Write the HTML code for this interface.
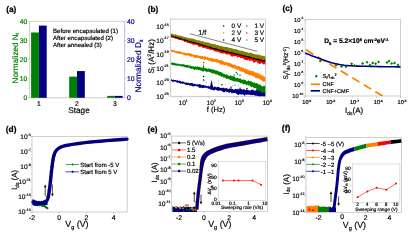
<!DOCTYPE html>
<html><head><meta charset="utf-8"><style>html,body{margin:0;padding:0;background:#fff;width:409px;height:232px;overflow:hidden}svg{display:block;will-change:transform}text{text-rendering:geometricPrecision}</style></head>
<body><svg width="409" height="232" viewBox="0 0 409 232" font-family='"Liberation Sans", sans-serif'><text x="6.20" y="11.80" font-size="8.3" text-anchor="start" fill="#000" stroke="#000" stroke-width="0.22" font-weight="bold" >(a)</text>
<line x1="29.60" y1="21.40" x2="124.60" y2="21.40" stroke="#c8c8c8" stroke-width="0.8" />
<line x1="29.60" y1="97.80" x2="124.60" y2="97.80" stroke="#c0c0c0" stroke-width="0.8" />
<line x1="29.60" y1="21.40" x2="29.60" y2="97.80" stroke="#b0ccb0" stroke-width="0.8" />
<line x1="124.60" y1="21.40" x2="124.60" y2="97.80" stroke="#b0b0d4" stroke-width="0.8" />
<line x1="27.60" y1="97.80" x2="29.60" y2="97.80" stroke="#b0ccb0" stroke-width="0.6" />
<line x1="124.60" y1="97.80" x2="126.60" y2="97.80" stroke="#b0b0d4" stroke-width="0.6" />
<line x1="28.40" y1="88.25" x2="29.60" y2="88.25" stroke="#b0ccb0" stroke-width="0.6" />
<line x1="124.60" y1="88.25" x2="125.80" y2="88.25" stroke="#b0b0d4" stroke-width="0.6" />
<line x1="27.60" y1="78.70" x2="29.60" y2="78.70" stroke="#b0ccb0" stroke-width="0.6" />
<line x1="124.60" y1="78.70" x2="126.60" y2="78.70" stroke="#b0b0d4" stroke-width="0.6" />
<line x1="28.40" y1="69.15" x2="29.60" y2="69.15" stroke="#b0ccb0" stroke-width="0.6" />
<line x1="124.60" y1="69.15" x2="125.80" y2="69.15" stroke="#b0b0d4" stroke-width="0.6" />
<line x1="27.60" y1="59.60" x2="29.60" y2="59.60" stroke="#b0ccb0" stroke-width="0.6" />
<line x1="124.60" y1="59.60" x2="126.60" y2="59.60" stroke="#b0b0d4" stroke-width="0.6" />
<line x1="28.40" y1="50.05" x2="29.60" y2="50.05" stroke="#b0ccb0" stroke-width="0.6" />
<line x1="124.60" y1="50.05" x2="125.80" y2="50.05" stroke="#b0b0d4" stroke-width="0.6" />
<line x1="27.60" y1="40.50" x2="29.60" y2="40.50" stroke="#b0ccb0" stroke-width="0.6" />
<line x1="124.60" y1="40.50" x2="126.60" y2="40.50" stroke="#b0b0d4" stroke-width="0.6" />
<line x1="28.40" y1="30.95" x2="29.60" y2="30.95" stroke="#b0ccb0" stroke-width="0.6" />
<line x1="124.60" y1="30.95" x2="125.80" y2="30.95" stroke="#b0b0d4" stroke-width="0.6" />
<line x1="27.60" y1="21.40" x2="29.60" y2="21.40" stroke="#b0ccb0" stroke-width="0.6" />
<line x1="124.60" y1="21.40" x2="126.60" y2="21.40" stroke="#b0b0d4" stroke-width="0.6" />
<text x="27.30" y="100.20" font-size="6.8" text-anchor="end" fill="#008000" stroke="#008000" stroke-width="0.18" font-weight="normal" >0</text>
<text x="126.90" y="100.20" font-size="6.8" text-anchor="start" fill="#000080" stroke="#000080" stroke-width="0.18" font-weight="normal" >0</text>
<text x="27.30" y="81.10" font-size="6.8" text-anchor="end" fill="#008000" stroke="#008000" stroke-width="0.18" font-weight="normal" >10</text>
<text x="126.90" y="81.10" font-size="6.8" text-anchor="start" fill="#000080" stroke="#000080" stroke-width="0.18" font-weight="normal" >10</text>
<text x="27.30" y="62.00" font-size="6.8" text-anchor="end" fill="#008000" stroke="#008000" stroke-width="0.18" font-weight="normal" >20</text>
<text x="126.90" y="62.00" font-size="6.8" text-anchor="start" fill="#000080" stroke="#000080" stroke-width="0.18" font-weight="normal" >20</text>
<text x="27.30" y="42.90" font-size="6.8" text-anchor="end" fill="#008000" stroke="#008000" stroke-width="0.18" font-weight="normal" >30</text>
<text x="126.90" y="42.90" font-size="6.8" text-anchor="start" fill="#000080" stroke="#000080" stroke-width="0.18" font-weight="normal" >30</text>
<text x="27.30" y="23.80" font-size="6.8" text-anchor="end" fill="#008000" stroke="#008000" stroke-width="0.18" font-weight="normal" >40</text>
<text x="126.90" y="23.80" font-size="6.8" text-anchor="start" fill="#000080" stroke="#000080" stroke-width="0.18" font-weight="normal" >40</text>
<rect x="31.10" y="32.48" width="7.80" height="65.32" fill="#008000"/>
<rect x="38.90" y="25.60" width="7.80" height="72.20" fill="#000080"/>
<rect x="69.20" y="76.60" width="7.80" height="21.20" fill="#008000"/>
<rect x="77.00" y="71.06" width="7.80" height="26.74" fill="#000080"/>
<rect x="107.10" y="95.89" width="7.80" height="1.91" fill="#008000"/>
<rect x="114.90" y="95.89" width="7.80" height="1.91" fill="#000080"/>
<line x1="39.00" y1="97.80" x2="39.00" y2="99.30" stroke="#c0c0c0" stroke-width="0.6" />
<text x="39.00" y="106.20" font-size="6.8" text-anchor="middle" fill="#000" stroke="#000" stroke-width="0.18" font-weight="normal" >1</text>
<line x1="77.00" y1="97.80" x2="77.00" y2="99.30" stroke="#c0c0c0" stroke-width="0.6" />
<text x="77.00" y="106.20" font-size="6.8" text-anchor="middle" fill="#000" stroke="#000" stroke-width="0.18" font-weight="normal" >2</text>
<line x1="114.80" y1="97.80" x2="114.80" y2="99.30" stroke="#c0c0c0" stroke-width="0.6" />
<text x="114.80" y="106.20" font-size="6.8" text-anchor="middle" fill="#000" stroke="#000" stroke-width="0.18" font-weight="normal" >3</text>
<text x="79.00" y="113.20" font-size="8.2" text-anchor="middle" fill="#000" stroke="#000" stroke-width="0.18" font-weight="normal" >Stage</text>
<text x="53.00" y="32.60" font-size="6.1" text-anchor="start" fill="#000" stroke="#000" stroke-width="0.18" font-weight="normal" >Before encapsulated (1)</text>
<text x="53.00" y="39.80" font-size="6.1" text-anchor="start" fill="#000" stroke="#000" stroke-width="0.18" font-weight="normal" >After encapsulated (2)</text>
<text x="53.00" y="46.90" font-size="6.1" text-anchor="start" fill="#000" stroke="#000" stroke-width="0.18" font-weight="normal" >After annealed (3)</text>
<text transform="translate(17.60,58.20) rotate(-90)" font-size="8.1" text-anchor="middle" fill="#008000" stroke="#008000" stroke-width="0.18">Normalized N<tspan font-size="5" dy="1.6">t</tspan></text>
<text transform="translate(141.40,66.00) rotate(-90)" font-size="8.3" text-anchor="middle" fill="#000080" stroke="#000080" stroke-width="0.18">Normalized D<tspan font-size="5" dy="1.6">it</tspan></text>
<text x="147.70" y="11.70" font-size="8.3" text-anchor="start" fill="#000" stroke="#000" stroke-width="0.22" font-weight="bold" >(b)</text>
<rect x="170.70" y="19.10" width="94.80" height="77.20" fill="none" stroke="#c4c4c4" stroke-width="0.8"/>
<line x1="168.70" y1="96.20" x2="170.70" y2="96.20" stroke="#b4b4b4" stroke-width="0.6" />
<line x1="169.50" y1="89.22" x2="170.70" y2="89.22" stroke="#b4b4b4" stroke-width="0.6" />
<line x1="168.70" y1="82.24" x2="170.70" y2="82.24" stroke="#b4b4b4" stroke-width="0.6" />
<line x1="169.50" y1="75.26" x2="170.70" y2="75.26" stroke="#b4b4b4" stroke-width="0.6" />
<line x1="168.70" y1="68.28" x2="170.70" y2="68.28" stroke="#b4b4b4" stroke-width="0.6" />
<line x1="169.50" y1="61.30" x2="170.70" y2="61.30" stroke="#b4b4b4" stroke-width="0.6" />
<line x1="168.70" y1="54.32" x2="170.70" y2="54.32" stroke="#b4b4b4" stroke-width="0.6" />
<line x1="169.50" y1="47.34" x2="170.70" y2="47.34" stroke="#b4b4b4" stroke-width="0.6" />
<line x1="168.70" y1="40.36" x2="170.70" y2="40.36" stroke="#b4b4b4" stroke-width="0.6" />
<line x1="169.50" y1="33.38" x2="170.70" y2="33.38" stroke="#b4b4b4" stroke-width="0.6" />
<line x1="168.70" y1="26.40" x2="170.70" y2="26.40" stroke="#b4b4b4" stroke-width="0.6" />
<line x1="169.50" y1="19.42" x2="170.70" y2="19.42" stroke="#b4b4b4" stroke-width="0.6" />
<text x="168.90" y="28.80" font-size="6.6" text-anchor="end" fill="#000" stroke="#000" stroke-width="0.18">10<tspan font-size="3.63" dy="-3.30">-15</tspan></text>
<text x="168.90" y="42.76" font-size="6.6" text-anchor="end" fill="#000" stroke="#000" stroke-width="0.18">10<tspan font-size="3.63" dy="-3.30">-17</tspan></text>
<text x="168.90" y="56.72" font-size="6.6" text-anchor="end" fill="#000" stroke="#000" stroke-width="0.18">10<tspan font-size="3.63" dy="-3.30">-19</tspan></text>
<text x="168.90" y="70.68" font-size="6.6" text-anchor="end" fill="#000" stroke="#000" stroke-width="0.18">10<tspan font-size="3.63" dy="-3.30">-21</tspan></text>
<text x="168.90" y="84.64" font-size="6.6" text-anchor="end" fill="#000" stroke="#000" stroke-width="0.18">10<tspan font-size="3.63" dy="-3.30">-23</tspan></text>
<text x="168.90" y="98.60" font-size="6.6" text-anchor="end" fill="#000" stroke="#000" stroke-width="0.18">10<tspan font-size="3.63" dy="-3.30">-25</tspan></text>
<line x1="181.40" y1="96.30" x2="181.40" y2="98.30" stroke="#b4b4b4" stroke-width="0.6" />
<line x1="172.98" y1="96.30" x2="172.98" y2="97.50" stroke="#b4b4b4" stroke-width="0.5" />
<line x1="175.19" y1="96.30" x2="175.19" y2="97.50" stroke="#b4b4b4" stroke-width="0.5" />
<line x1="177.07" y1="96.30" x2="177.07" y2="97.50" stroke="#b4b4b4" stroke-width="0.5" />
<line x1="178.69" y1="96.30" x2="178.69" y2="97.50" stroke="#b4b4b4" stroke-width="0.5" />
<line x1="180.12" y1="96.30" x2="180.12" y2="97.50" stroke="#b4b4b4" stroke-width="0.5" />
<text x="183.20" y="104.80" font-size="6.6" text-anchor="middle" fill="#000" stroke="#000" stroke-width="0.18">10<tspan font-size="3.63" dy="-3.30">1</tspan></text>
<line x1="209.37" y1="96.30" x2="209.37" y2="98.30" stroke="#b4b4b4" stroke-width="0.6" />
<line x1="189.82" y1="96.30" x2="189.82" y2="97.50" stroke="#b4b4b4" stroke-width="0.5" />
<line x1="194.75" y1="96.30" x2="194.75" y2="97.50" stroke="#b4b4b4" stroke-width="0.5" />
<line x1="198.24" y1="96.30" x2="198.24" y2="97.50" stroke="#b4b4b4" stroke-width="0.5" />
<line x1="200.95" y1="96.30" x2="200.95" y2="97.50" stroke="#b4b4b4" stroke-width="0.5" />
<line x1="203.16" y1="96.30" x2="203.16" y2="97.50" stroke="#b4b4b4" stroke-width="0.5" />
<line x1="205.04" y1="96.30" x2="205.04" y2="97.50" stroke="#b4b4b4" stroke-width="0.5" />
<line x1="206.66" y1="96.30" x2="206.66" y2="97.50" stroke="#b4b4b4" stroke-width="0.5" />
<line x1="208.09" y1="96.30" x2="208.09" y2="97.50" stroke="#b4b4b4" stroke-width="0.5" />
<text x="211.17" y="104.80" font-size="6.6" text-anchor="middle" fill="#000" stroke="#000" stroke-width="0.18">10<tspan font-size="3.63" dy="-3.30">2</tspan></text>
<line x1="237.34" y1="96.30" x2="237.34" y2="98.30" stroke="#b4b4b4" stroke-width="0.6" />
<line x1="217.79" y1="96.30" x2="217.79" y2="97.50" stroke="#b4b4b4" stroke-width="0.5" />
<line x1="222.72" y1="96.30" x2="222.72" y2="97.50" stroke="#b4b4b4" stroke-width="0.5" />
<line x1="226.21" y1="96.30" x2="226.21" y2="97.50" stroke="#b4b4b4" stroke-width="0.5" />
<line x1="228.92" y1="96.30" x2="228.92" y2="97.50" stroke="#b4b4b4" stroke-width="0.5" />
<line x1="231.13" y1="96.30" x2="231.13" y2="97.50" stroke="#b4b4b4" stroke-width="0.5" />
<line x1="233.01" y1="96.30" x2="233.01" y2="97.50" stroke="#b4b4b4" stroke-width="0.5" />
<line x1="234.63" y1="96.30" x2="234.63" y2="97.50" stroke="#b4b4b4" stroke-width="0.5" />
<line x1="236.06" y1="96.30" x2="236.06" y2="97.50" stroke="#b4b4b4" stroke-width="0.5" />
<text x="239.14" y="104.80" font-size="6.6" text-anchor="middle" fill="#000" stroke="#000" stroke-width="0.18">10<tspan font-size="3.63" dy="-3.30">3</tspan></text>
<line x1="265.31" y1="96.30" x2="265.31" y2="98.30" stroke="#b4b4b4" stroke-width="0.6" />
<line x1="245.76" y1="96.30" x2="245.76" y2="97.50" stroke="#b4b4b4" stroke-width="0.5" />
<line x1="250.69" y1="96.30" x2="250.69" y2="97.50" stroke="#b4b4b4" stroke-width="0.5" />
<line x1="254.18" y1="96.30" x2="254.18" y2="97.50" stroke="#b4b4b4" stroke-width="0.5" />
<line x1="256.89" y1="96.30" x2="256.89" y2="97.50" stroke="#b4b4b4" stroke-width="0.5" />
<line x1="259.10" y1="96.30" x2="259.10" y2="97.50" stroke="#b4b4b4" stroke-width="0.5" />
<line x1="260.98" y1="96.30" x2="260.98" y2="97.50" stroke="#b4b4b4" stroke-width="0.5" />
<line x1="262.60" y1="96.30" x2="262.60" y2="97.50" stroke="#b4b4b4" stroke-width="0.5" />
<line x1="264.03" y1="96.30" x2="264.03" y2="97.50" stroke="#b4b4b4" stroke-width="0.5" />
<text x="267.11" y="104.80" font-size="6.6" text-anchor="middle" fill="#000" stroke="#000" stroke-width="0.18">10<tspan font-size="3.63" dy="-3.30">4</tspan></text>
<text x="206.80" y="112.20" font-size="7.5" text-anchor="start" fill="#000" stroke="#000" stroke-width="0.18" font-weight="normal" >f (Hz)</text>
<text transform="translate(153.70,56.40) rotate(-90)" font-size="8.0" text-anchor="middle" fill="#000" stroke="#000" stroke-width="0.18">S<tspan font-size="5" dy="1.6">I</tspan><tspan dy="-1.6"> (A</tspan><tspan font-size="5" dy="-2.8">2</tspan><tspan dy="2.8">/Hz)</tspan></text>
<clipPath id="clipb"><rect x="170.7" y="19.1" width="94.80000000000001" height="77.19999999999999"/></clipPath>
<g clip-path="url(#clipb)">
<polygon points="170.70,79.22 171.56,79.22 172.42,79.89 173.29,79.47 174.15,80.12 175.01,80.11 175.87,79.95 176.73,80.60 177.59,80.26 178.46,80.86 179.32,80.63 180.18,80.82 181.04,81.35 181.90,81.97 182.77,81.35 183.63,81.63 184.49,82.26 185.35,82.80 186.21,82.54 187.07,82.50 187.94,83.36 188.80,82.42 189.66,83.56 190.52,83.03 191.38,82.99 192.25,83.09 193.11,83.46 193.97,84.23 194.83,83.57 195.69,84.21 196.55,84.43 197.42,84.22 198.28,84.59 199.14,84.09 200.00,84.22 200.86,84.55 201.73,85.32 202.59,85.12 203.45,85.10 204.31,85.61 205.17,85.56 206.03,85.49 206.90,86.31 207.76,86.32 208.62,85.82 209.48,86.42 210.34,86.47 211.21,87.06 212.07,86.95 212.93,86.41 213.79,87.50 214.65,86.34 215.51,86.87 216.38,87.46 217.24,86.65 218.10,87.25 218.96,86.66 219.82,87.70 220.69,87.94 221.55,87.74 222.41,88.30 223.27,87.53 224.13,88.21 224.99,88.15 225.86,88.22 226.72,88.11 227.58,88.82 228.44,89.08 229.30,88.42 230.17,88.82 231.03,87.92 231.89,89.07 232.75,89.07 233.61,89.74 234.47,89.55 235.34,88.74 236.20,89.00 237.06,89.57 237.92,88.56 238.78,89.40 239.65,88.99 240.51,88.95 241.37,88.87 242.23,90.14 243.09,89.04 243.95,89.28 244.82,89.56 245.68,90.44 246.54,89.05 247.40,89.74 248.26,89.95 249.13,90.59 249.99,90.50 250.85,90.61 251.71,89.56 252.57,89.84 253.43,89.76 254.30,90.77 255.16,90.94 256.02,89.44 256.88,89.51 257.74,89.64 258.61,89.67 259.47,90.18 260.33,90.41 261.19,89.80 262.05,89.32 262.91,90.16 263.78,90.09 264.64,90.51 265.50,91.31 265.50,97.38 264.64,96.95 263.78,97.07 262.91,97.10 262.05,95.80 261.19,97.38 260.33,97.06 259.47,97.16 258.61,96.93 257.74,96.06 256.88,96.00 256.02,95.35 255.16,96.28 254.30,95.12 253.43,95.05 252.57,95.24 251.71,95.08 250.85,95.33 249.99,94.72 249.13,94.55 248.26,94.74 247.40,94.58 246.54,94.97 245.68,94.28 244.82,95.72 243.95,95.17 243.09,94.27 242.23,94.38 241.37,94.46 240.51,94.41 239.65,93.88 238.78,94.97 237.92,95.05 237.06,93.99 236.20,93.86 235.34,93.03 234.47,92.90 233.61,93.15 232.75,92.86 231.89,93.63 231.03,92.37 230.17,91.99 229.30,93.33 228.44,92.49 227.58,91.72 226.72,92.19 225.86,91.21 224.99,91.84 224.13,92.39 223.27,92.04 222.41,91.62 221.55,90.79 220.69,90.79 219.82,90.33 218.96,91.08 218.10,90.56 217.24,90.77 216.38,89.94 215.51,89.62 214.65,90.32 213.79,90.41 212.93,90.06 212.07,89.83 211.21,89.68 210.34,89.40 209.48,88.52 208.62,88.78 207.76,88.40 206.90,87.79 206.03,87.64 205.17,87.83 204.31,87.65 203.45,88.08 202.59,88.28 201.73,87.44 200.86,87.93 200.00,87.84 199.14,87.64 198.28,86.72 197.42,86.38 196.55,86.23 195.69,86.04 194.83,85.90 193.97,86.27 193.11,86.45 192.25,86.22 191.38,85.62 190.52,85.68 189.66,85.68 188.80,84.63 187.94,85.12 187.07,85.21 186.21,84.87 185.35,84.63 184.49,84.12 183.63,83.58 182.77,84.08 181.90,83.37 181.04,83.69 180.18,83.68 179.32,82.85 178.46,82.66 177.59,83.05 176.73,82.61 175.87,81.83 175.01,81.59 174.15,81.42 173.29,82.01 172.42,81.71 171.56,80.84 170.70,81.33" fill="#000080"/>
<polygon points="170.70,62.83 171.56,62.69 172.42,62.55 173.29,62.88 174.15,62.63 175.01,62.66 175.87,63.71 176.73,63.55 177.59,63.58 178.46,64.12 179.32,63.77 180.18,64.35 181.04,64.45 181.90,63.98 182.77,64.16 183.63,64.35 184.49,64.44 185.35,64.94 186.21,64.74 187.07,65.05 187.94,64.89 188.80,65.86 189.66,65.41 190.52,65.67 191.38,65.95 192.25,66.45 193.11,66.05 193.97,66.76 194.83,66.43 195.69,66.61 196.55,66.75 197.42,66.31 198.28,66.94 199.14,66.78 200.00,66.71 200.86,67.79 201.73,67.19 202.59,67.69 203.45,68.14 204.31,68.08 205.17,67.94 206.03,68.33 206.90,68.52 207.76,68.95 208.62,68.24 209.48,68.95 210.34,68.70 211.21,68.88 212.07,69.66 212.93,69.46 213.79,69.68 214.65,70.08 215.51,70.55 216.38,70.27 217.24,70.85 218.10,71.05 218.96,71.40 219.82,71.99 220.69,72.01 221.55,72.46 222.41,72.73 223.27,73.73 224.13,73.73 224.99,74.33 225.86,74.77 226.72,74.14 227.58,74.92 228.44,75.82 229.30,76.02 230.17,75.31 231.03,75.53 231.89,76.23 232.75,75.92 233.61,76.41 234.47,76.39 235.34,77.52 236.20,77.94 237.06,78.35 237.92,77.45 238.78,78.55 239.65,78.70 240.51,78.13 241.37,79.53 242.23,79.90 243.09,78.96 243.95,80.36 244.82,79.71 245.68,80.09 246.54,81.14 247.40,81.13 248.26,80.27 249.13,80.95 249.99,81.32 250.85,81.33 251.71,81.40 252.57,81.91 253.43,82.89 254.30,82.01 255.16,83.22 256.02,83.33 256.88,82.91 257.74,83.76 258.61,84.57 259.47,84.68 260.33,84.20 261.19,86.12 262.05,86.09 262.91,86.72 263.78,85.48 264.64,86.07 265.50,85.97 265.50,94.50 264.64,93.13 263.78,92.43 262.91,92.49 262.05,92.90 261.19,92.28 260.33,90.84 259.47,90.20 258.61,91.08 257.74,90.02 256.88,89.79 256.02,88.28 255.16,87.78 254.30,88.39 253.43,87.49 252.57,86.44 251.71,87.44 250.85,86.47 249.99,86.29 249.13,84.87 248.26,85.90 247.40,84.37 246.54,85.42 245.68,84.52 244.82,84.09 243.95,84.19 243.09,84.54 242.23,83.26 241.37,82.80 240.51,83.18 239.65,82.49 238.78,82.06 237.92,81.90 237.06,81.49 236.20,81.48 235.34,81.41 234.47,81.16 233.61,81.60 232.75,80.66 231.89,80.73 231.03,80.01 230.17,80.02 229.30,79.19 228.44,79.15 227.58,78.44 226.72,79.09 225.86,78.45 224.99,77.56 224.13,77.58 223.27,77.85 222.41,76.31 221.55,76.92 220.69,76.01 219.82,75.72 218.96,75.80 218.10,74.82 217.24,74.59 216.38,74.46 215.51,74.47 214.65,73.32 213.79,73.78 212.93,73.44 212.07,73.17 211.21,72.69 210.34,72.44 209.48,71.89 208.62,71.81 207.76,71.56 206.90,72.22 206.03,71.44 205.17,71.15 204.31,70.87 203.45,71.61 202.59,71.47 201.73,71.05 200.86,70.41 200.00,70.18 199.14,70.06 198.28,70.08 197.42,69.55 196.55,69.71 195.69,69.32 194.83,69.93 193.97,69.76 193.11,69.11 192.25,68.59 191.38,69.21 190.52,68.31 189.66,68.18 188.80,67.62 187.94,67.85 187.07,67.77 186.21,67.62 185.35,67.13 184.49,67.27 183.63,66.58 182.77,66.67 181.90,66.31 181.04,66.45 180.18,65.92 179.32,65.72 178.46,65.82 177.59,65.57 176.73,65.73 175.87,65.50 175.01,65.53 174.15,65.26 173.29,65.14 172.42,65.11 171.56,64.48 170.70,64.24" fill="#008000"/>
<polygon points="170.70,49.99 171.56,49.50 172.42,50.14 173.29,50.25 174.15,49.94 175.01,50.78 175.87,51.00 176.73,50.96 177.59,51.23 178.46,51.48 179.32,51.07 180.18,51.59 181.04,51.75 181.90,52.23 182.77,52.38 183.63,52.58 184.49,52.54 185.35,53.01 186.21,52.99 187.07,53.18 187.94,52.92 188.80,52.91 189.66,53.19 190.52,53.58 191.38,53.51 192.25,54.40 193.11,54.31 193.97,54.56 194.83,54.74 195.69,54.97 196.55,54.96 197.42,54.64 198.28,55.63 199.14,55.76 200.00,55.69 200.86,55.90 201.73,56.21 202.59,55.76 203.45,56.66 204.31,56.31 205.17,56.29 206.03,56.68 206.90,57.37 207.76,56.97 208.62,57.74 209.48,58.19 210.34,57.83 211.21,57.88 212.07,58.17 212.93,58.58 213.79,58.86 214.65,58.86 215.51,59.12 216.38,58.70 217.24,59.04 218.10,59.41 218.96,60.26 219.82,59.98 220.69,60.55 221.55,60.12 222.41,60.43 223.27,60.94 224.13,61.69 224.99,61.97 225.86,62.21 226.72,61.97 227.58,62.51 228.44,62.70 229.30,62.95 230.17,62.76 231.03,64.09 231.89,63.48 232.75,64.82 233.61,65.08 234.47,64.17 235.34,65.07 236.20,65.86 237.06,66.38 237.92,65.98 238.78,66.04 239.65,66.27 240.51,67.60 241.37,66.89 242.23,67.72 243.09,67.41 243.95,68.26 244.82,69.18 245.68,68.32 246.54,69.62 247.40,69.48 248.26,70.34 249.13,70.38 249.99,70.00 250.85,71.33 251.71,71.07 252.57,70.74 253.43,71.05 254.30,72.13 255.16,72.42 256.02,72.55 256.88,72.65 257.74,73.31 258.61,73.61 259.47,74.78 260.33,73.82 261.19,75.34 262.05,75.83 262.91,75.05 263.78,76.68 264.64,76.69 265.50,77.34 265.50,81.86 264.64,81.59 263.78,81.22 262.91,81.77 262.05,80.72 261.19,79.95 260.33,79.65 259.47,79.01 258.61,78.26 257.74,77.94 256.88,78.65 256.02,77.41 255.16,77.99 254.30,76.55 253.43,76.17 252.57,76.13 251.71,75.25 250.85,75.11 249.99,75.56 249.13,75.11 248.26,74.65 247.40,74.04 246.54,74.09 245.68,73.78 244.82,72.87 243.95,72.76 243.09,71.47 242.23,72.08 241.37,71.34 240.51,71.41 239.65,70.91 238.78,70.06 237.92,69.39 237.06,70.24 236.20,68.81 235.34,68.92 234.47,68.40 233.61,67.99 232.75,68.23 231.89,68.19 231.03,66.90 230.17,67.07 229.30,66.33 228.44,66.40 227.58,65.92 226.72,65.37 225.86,65.10 224.99,64.90 224.13,65.51 223.27,64.73 222.41,64.13 221.55,64.71 220.69,64.55 219.82,63.62 218.96,62.98 218.10,62.78 217.24,62.40 216.38,62.43 215.51,61.88 214.65,61.81 213.79,61.63 212.93,61.78 212.07,61.94 211.21,61.58 210.34,60.99 209.48,60.78 208.62,60.70 207.76,60.33 206.90,60.08 206.03,59.57 205.17,59.61 204.31,60.15 203.45,59.03 202.59,59.23 201.73,59.16 200.86,59.20 200.00,58.31 199.14,58.17 198.28,57.94 197.42,57.89 196.55,57.73 195.69,58.04 194.83,57.72 193.97,57.54 193.11,56.49 192.25,56.30 191.38,56.75 190.52,56.73 189.66,56.11 188.80,56.01 187.94,55.25 187.07,55.42 186.21,55.71 185.35,55.41 184.49,55.23 183.63,55.12 182.77,54.26 181.90,53.93 181.04,53.77 180.18,53.89 179.32,53.82 178.46,53.84 177.59,53.44 176.73,53.17 175.87,53.06 175.01,52.60 174.15,52.47 173.29,51.84 172.42,52.24 171.56,51.59 170.70,51.94" fill="#ff8000"/>
<polygon points="170.70,34.95 171.56,34.81 172.42,34.84 173.29,35.17 174.15,35.77 175.01,36.05 175.87,35.64 176.73,35.80 177.59,36.49 178.46,36.76 179.32,36.76 180.18,36.79 181.04,37.41 181.90,36.96 182.77,37.49 183.63,37.88 184.49,38.66 185.35,38.51 186.21,38.99 187.07,38.73 187.94,38.65 188.80,38.87 189.66,39.93 190.52,39.84 191.38,39.56 192.25,39.42 193.11,40.21 193.97,40.64 194.83,40.53 195.69,40.53 196.55,41.26 197.42,41.80 198.28,41.11 199.14,41.06 200.00,41.67 200.86,41.98 201.73,42.54 202.59,42.10 203.45,43.11 204.31,43.24 205.17,43.13 206.03,42.93 206.90,44.19 207.76,43.49 208.62,44.41 209.48,43.79 210.34,43.98 211.21,44.96 212.07,44.50 212.93,45.65 213.79,45.20 214.65,44.96 215.51,45.23 216.38,45.73 217.24,46.33 218.10,46.98 218.96,45.99 219.82,46.59 220.69,46.54 221.55,47.93 222.41,46.87 223.27,46.95 224.13,47.18 224.99,47.92 225.86,48.95 226.72,49.15 227.58,49.14 228.44,49.79 229.30,49.91 230.17,49.16 231.03,49.14 231.89,50.60 232.75,50.51 233.61,49.55 234.47,50.83 235.34,50.57 236.20,50.79 237.06,50.94 237.92,50.88 238.78,50.82 239.65,51.51 240.51,51.86 241.37,53.14 242.23,51.90 243.09,53.61 243.95,52.49 244.82,52.98 245.68,54.03 246.54,54.26 247.40,53.78 248.26,53.31 249.13,54.30 249.99,54.34 250.85,55.57 251.71,54.45 252.57,54.99 253.43,56.21 254.30,54.81 255.16,55.75 256.02,56.73 256.88,56.87 257.74,55.71 258.61,55.92 259.47,56.19 260.33,58.08 261.19,57.01 262.05,58.19 262.91,58.72 263.78,57.83 264.64,57.92 265.50,59.52 265.50,65.03 264.64,64.09 263.78,64.77 262.91,63.74 262.05,63.43 261.19,62.67 260.33,63.90 259.47,63.98 258.61,63.20 257.74,63.56 256.88,61.57 256.02,61.74 255.16,61.97 254.30,62.64 253.43,62.40 252.57,61.11 251.71,60.62 250.85,60.73 249.99,60.61 249.13,61.17 248.26,59.58 247.40,60.47 246.54,60.12 245.68,60.04 244.82,59.72 243.95,59.19 243.09,58.46 242.23,58.22 241.37,58.06 240.51,58.56 239.65,57.11 238.78,57.09 237.92,57.81 237.06,56.71 236.20,56.17 235.34,55.89 234.47,56.53 233.61,55.92 232.75,56.78 231.89,56.38 231.03,56.31 230.17,54.90 229.30,54.38 228.44,54.17 227.58,54.59 226.72,54.69 225.86,54.04 224.99,53.47 224.13,53.53 223.27,53.61 222.41,53.46 221.55,53.34 220.69,53.26 219.82,52.75 218.96,51.70 218.10,52.55 217.24,51.50 216.38,51.67 215.51,51.15 214.65,51.44 213.79,50.38 212.93,50.18 212.07,49.91 211.21,49.51 210.34,50.27 209.48,49.57 208.62,48.94 207.76,48.77 206.90,49.32 206.03,48.38 205.17,47.73 204.31,48.24 203.45,47.76 202.59,47.93 201.73,46.48 200.86,46.70 200.00,46.88 199.14,46.63 198.28,46.45 197.42,45.05 196.55,45.11 195.69,44.62 194.83,44.44 193.97,45.14 193.11,44.38 192.25,44.54 191.38,43.58 190.52,43.91 189.66,43.13 188.80,42.63 187.94,42.98 187.07,42.90 186.21,41.64 185.35,41.94 184.49,41.70 183.63,40.96 182.77,40.87 181.90,40.34 181.04,40.14 180.18,39.93 179.32,40.03 178.46,39.82 177.59,39.06 176.73,38.59 175.87,38.65 175.01,38.75 174.15,37.96 173.29,37.82 172.42,37.44 171.56,37.77 170.70,37.25" fill="#ff0000"/>
<polygon points="170.70,34.54 171.56,34.77 172.42,35.15 173.29,35.45 174.15,35.72 175.01,35.60 175.87,35.85 176.73,36.37 177.59,36.41 178.46,36.54 179.32,36.77 180.18,37.36 181.04,37.19 181.90,37.55 182.77,37.63 183.63,37.87 184.49,38.35 185.35,38.64 186.21,38.47 187.07,38.57 187.94,39.10 188.80,38.99 189.66,39.08 190.52,39.83 191.38,39.75 192.25,40.20 193.11,40.16 193.97,40.65 194.83,40.61 195.69,40.63 196.55,40.75 197.42,41.28 198.28,41.55 199.14,41.92 200.00,41.63 200.86,42.16 201.73,42.22 202.59,42.50 203.45,42.50 204.31,42.79 205.17,43.14 206.03,43.59 206.90,43.31 207.76,43.75 208.62,44.14 209.48,44.45 210.34,44.19 211.21,44.36 212.07,45.06 212.93,45.29 213.79,45.20 214.65,45.15 215.51,45.89 216.38,45.79 217.24,46.32 218.10,46.37 218.96,46.71 219.82,46.54 220.69,47.14 221.55,47.02 222.41,47.35 223.27,47.84 224.13,48.05 224.99,47.88 225.86,48.13 226.72,48.46 227.58,48.75 228.44,48.89 229.30,48.96 230.17,49.25 231.03,49.76 231.89,50.09 232.75,49.79 233.61,50.33 234.47,50.67 235.34,50.46 236.20,51.16 237.06,50.95 237.92,51.46 238.78,51.65 239.65,51.92 240.51,51.95 241.37,52.24 242.23,52.56 243.09,52.69 243.95,53.05 244.82,53.14 245.68,53.36 246.54,53.33 247.40,53.91 248.26,54.06 249.13,54.13 249.99,54.66 250.85,54.90 251.71,54.93 252.57,54.98 253.43,55.38 254.30,55.38 255.16,55.61 256.02,56.02 256.88,56.04 257.74,56.47 258.61,56.73 259.47,56.67 260.33,57.25 261.19,57.14 262.05,57.75 262.91,58.00 263.78,58.06 264.64,58.01 265.50,58.50 265.50,61.73 264.64,61.86 263.78,61.16 262.91,61.38 262.05,61.26 261.19,60.89 260.33,60.73 259.47,60.15 258.61,60.41 257.74,59.91 256.88,59.97 256.02,59.74 255.16,59.08 254.30,59.24 253.43,59.12 252.57,58.39 251.71,58.35 250.85,58.39 249.99,57.82 249.13,58.05 248.26,57.47 247.40,57.58 246.54,56.97 245.68,56.97 244.82,57.01 243.95,56.38 243.09,56.20 242.23,56.14 241.37,55.81 240.51,55.43 239.65,55.31 238.78,55.09 237.92,55.34 237.06,54.98 236.20,54.90 235.34,54.25 234.47,54.41 233.61,53.80 232.75,53.84 231.89,53.70 231.03,53.32 230.17,53.42 229.30,53.02 228.44,52.82 227.58,52.79 226.72,52.12 225.86,52.44 224.99,52.01 224.13,51.66 223.27,51.69 222.41,51.16 221.55,51.39 220.69,50.93 219.82,50.59 218.96,50.62 218.10,50.22 217.24,49.85 216.38,49.98 215.51,49.35 214.65,49.59 213.79,48.99 212.93,48.97 212.07,48.92 211.21,48.43 210.34,48.22 209.48,47.76 208.62,47.31 207.76,47.08 206.90,46.89 206.03,46.92 205.17,46.55 204.31,46.35 203.45,46.32 202.59,45.61 201.73,45.41 200.86,45.41 200.00,44.78 199.14,44.51 198.28,44.47 197.42,44.06 196.55,43.96 195.69,43.63 194.83,43.59 193.97,43.33 193.11,42.85 192.25,42.85 191.38,42.50 190.52,42.04 189.66,42.27 188.80,41.60 187.94,41.29 187.07,41.00 186.21,41.07 185.35,40.96 184.49,40.65 183.63,40.16 182.77,39.83 181.90,39.42 181.04,39.55 180.18,39.24 179.32,38.86 178.46,38.78 177.59,38.41 176.73,38.45 175.87,38.07 175.01,37.52 174.15,37.66 173.29,36.89 172.42,36.93 171.56,36.60 170.70,36.24" fill="#000000"/>
<polygon points="170.70,33.19 171.56,33.91 172.42,33.58 173.29,34.17 174.15,34.66 175.01,34.31 175.87,34.56 176.73,35.06 177.59,35.20 178.46,35.51 179.32,35.84 180.18,35.60 181.04,35.91 181.90,36.12 182.77,36.15 183.63,36.95 184.49,37.09 185.35,37.26 186.21,36.97 187.07,37.77 187.94,37.91 188.80,37.93 189.66,38.33 190.52,38.34 191.38,38.40 192.25,38.52 193.11,38.83 193.97,38.90 194.83,39.32 195.69,39.82 196.55,40.00 197.42,40.32 198.28,40.43 199.14,40.33 200.00,40.75 200.86,40.88 201.73,41.34 202.59,41.36 203.45,41.39 204.31,41.87 205.17,42.31 206.03,42.00 206.90,42.67 207.76,42.28 208.62,42.66 209.48,42.86 210.34,43.43 211.21,43.78 212.07,43.85 212.93,43.77 213.79,44.37 214.65,44.19 215.51,44.34 216.38,45.02 217.24,45.03 218.10,45.28 218.96,45.47 219.82,45.90 220.69,45.75 221.55,46.22 222.41,46.33 223.27,46.65 224.13,46.56 224.99,46.97 225.86,47.07 226.72,47.10 227.58,47.24 228.44,47.73 229.30,47.56 230.17,48.35 231.03,48.02 231.89,48.15 232.75,48.41 233.61,49.20 234.47,49.00 235.34,49.06 236.20,49.19 237.06,49.41 237.92,50.07 238.78,50.24 239.65,50.49 240.51,50.73 241.37,50.47 242.23,51.04 243.09,51.09 243.95,51.62 244.82,51.83 245.68,52.09 246.54,51.72 247.40,52.49 248.26,52.73 249.13,52.96 249.99,52.58 250.85,52.85 251.71,53.00 252.57,53.15 253.43,53.93 254.30,54.11 255.16,54.20 256.02,54.54 256.88,54.61 257.74,54.58 258.61,54.65 259.47,54.86 260.33,55.53 261.19,55.35 262.05,55.64 262.91,55.92 263.78,55.85 264.64,56.22 265.50,56.45 265.50,60.75 264.64,60.30 263.78,60.05 262.91,60.29 262.05,59.76 261.19,59.79 260.33,59.41 259.47,58.79 258.61,58.85 257.74,58.65 256.88,58.67 256.02,58.16 255.16,58.20 254.30,57.88 253.43,57.44 252.57,57.68 251.71,56.93 250.85,57.23 249.99,56.56 249.13,56.23 248.26,56.16 247.40,56.34 246.54,56.28 245.68,55.39 244.82,55.51 243.95,55.30 243.09,55.31 242.23,54.67 241.37,54.67 240.51,54.36 239.65,54.48 238.78,53.87 237.92,54.14 237.06,53.47 236.20,53.21 235.34,53.33 234.47,52.98 233.61,52.50 232.75,52.65 231.89,52.05 231.03,52.34 230.17,52.06 229.30,51.91 228.44,51.59 227.58,51.19 226.72,51.01 225.86,50.79 224.99,50.93 224.13,50.15 223.27,50.50 222.41,49.69 221.55,49.60 220.69,49.43 219.82,49.67 218.96,49.17 218.10,48.88 217.24,49.02 216.38,48.35 215.51,48.30 214.65,48.12 213.79,48.03 212.93,47.78 212.07,47.46 211.21,47.00 210.34,46.73 209.48,46.36 208.62,46.60 207.76,46.22 206.90,46.03 206.03,45.38 205.17,45.32 204.31,45.30 203.45,44.92 202.59,44.35 201.73,44.34 200.86,44.39 200.00,43.68 199.14,43.40 198.28,43.23 197.42,43.26 196.55,43.11 195.69,42.38 194.83,42.13 193.97,41.95 193.11,41.75 192.25,41.64 191.38,41.14 190.52,41.01 189.66,40.66 188.80,40.96 187.94,40.54 187.07,39.85 186.21,40.21 185.35,39.35 184.49,39.30 183.63,39.47 182.77,39.09 181.90,38.80 181.04,38.34 180.18,37.93 179.32,37.99 178.46,37.37 177.59,37.19 176.73,37.06 175.87,36.57 175.01,36.57 174.15,36.60 173.29,36.28 172.42,35.90 171.56,35.74 170.70,35.37" fill="#808000"/>
<circle cx="203.60" cy="62.40" r="0.75" fill="#008000"/>
<circle cx="203.60" cy="66.40" r="0.75" fill="#008000"/>
<circle cx="212.60" cy="70.00" r="0.75" fill="#008000"/>
<circle cx="212.00" cy="71.00" r="0.75" fill="#008000"/>
<circle cx="236.30" cy="72.60" r="0.75" fill="#008000"/>
<circle cx="237.50" cy="74.00" r="0.75" fill="#008000"/>
<circle cx="240.00" cy="75.20" r="0.75" fill="#008000"/>
<circle cx="234.00" cy="75.00" r="0.75" fill="#008000"/>
<circle cx="203.60" cy="76.50" r="0.75" fill="#000080"/>
<circle cx="203.60" cy="79.90" r="0.75" fill="#000080"/>
<circle cx="222.00" cy="84.80" r="0.75" fill="#000080"/>
<circle cx="231.00" cy="87.20" r="0.75" fill="#000080"/>
<circle cx="240.00" cy="88.20" r="0.75" fill="#000080"/>
<circle cx="247.00" cy="88.60" r="0.75" fill="#000080"/>
<circle cx="206.38" cy="82.13" r="0.4" fill="#000080"/>
<circle cx="218.21" cy="83.90" r="0.4" fill="#000080"/>
<circle cx="240.86" cy="83.85" r="0.4" fill="#000080"/>
<circle cx="225.83" cy="84.56" r="0.4" fill="#000080"/>
<circle cx="218.95" cy="80.89" r="0.4" fill="#000080"/>
<circle cx="232.50" cy="85.88" r="0.4" fill="#000080"/>
<circle cx="234.83" cy="84.99" r="0.4" fill="#000080"/>
<circle cx="238.36" cy="85.15" r="0.4" fill="#000080"/>
<circle cx="228.87" cy="83.03" r="0.4" fill="#000080"/>
<circle cx="214.09" cy="82.90" r="0.4" fill="#000080"/>
<circle cx="204.40" cy="80.87" r="0.4" fill="#000080"/>
<circle cx="235.21" cy="85.10" r="0.4" fill="#000080"/>
<polygon points="209.60,89.00 211.00,82.00 211.50,79.80 212.00,82.00 213.40,89.00" fill="#000080"/>
<polygon points="203.00,69.00 203.60,63.00 204.20,69.00" fill="#008000"/>
</g>
<line x1="189.80" y1="33.70" x2="257.00" y2="51.30" stroke="#303030" stroke-width="0.6" />
<text x="198.20" y="35.20" font-size="7.2" text-anchor="start" fill="#000" stroke="#000" stroke-width="0.18" font-weight="normal" >1/f</text>
<circle cx="223.60" cy="25.90" r="0.75" fill="#000080"/>
<text x="231.60" y="28.20" font-size="6.4" text-anchor="start" fill="#000" stroke="#000" stroke-width="0.18" font-weight="normal" >0 V</text>
<circle cx="246.80" cy="25.90" r="0.75" fill="#008000"/>
<text x="254.50" y="28.20" font-size="6.4" text-anchor="start" fill="#000" stroke="#000" stroke-width="0.18" font-weight="normal" >1 V</text>
<circle cx="223.60" cy="33.00" r="0.75" fill="#ff8000"/>
<text x="231.60" y="35.30" font-size="6.4" text-anchor="start" fill="#000" stroke="#000" stroke-width="0.18" font-weight="normal" >2 V</text>
<circle cx="246.80" cy="33.00" r="0.75" fill="#ff0000"/>
<text x="254.50" y="35.30" font-size="6.4" text-anchor="start" fill="#000" stroke="#000" stroke-width="0.18" font-weight="normal" >3 V</text>
<circle cx="223.60" cy="40.10" r="0.75" fill="#000000"/>
<text x="231.60" y="42.40" font-size="6.4" text-anchor="start" fill="#000" stroke="#000" stroke-width="0.18" font-weight="normal" >4 V</text>
<circle cx="246.80" cy="40.10" r="0.75" fill="#808000"/>
<text x="254.50" y="42.40" font-size="6.4" text-anchor="start" fill="#000" stroke="#000" stroke-width="0.18" font-weight="normal" >5 V</text>
<text x="282.40" y="11.30" font-size="8.3" text-anchor="start" fill="#000" stroke="#000" stroke-width="0.22" font-weight="bold" >(c)</text>
<rect x="305.20" y="19.50" width="95.30" height="76.50" fill="none" stroke="#c4c4c4" stroke-width="0.8"/>
<line x1="303.20" y1="96.01" x2="305.20" y2="96.01" stroke="#b4b4b4" stroke-width="0.6" />
<text x="303.40" y="98.01" font-size="5.8" text-anchor="end" fill="#000" stroke="#000" stroke-width="0.18">10<tspan font-size="3.19" dy="-2.90">-10</tspan></text>
<line x1="303.20" y1="85.18" x2="305.20" y2="85.18" stroke="#b4b4b4" stroke-width="0.6" />
<text x="303.40" y="87.18" font-size="5.8" text-anchor="end" fill="#000" stroke="#000" stroke-width="0.18">10<tspan font-size="3.19" dy="-2.90">-9</tspan></text>
<line x1="303.20" y1="74.35" x2="305.20" y2="74.35" stroke="#b4b4b4" stroke-width="0.6" />
<text x="303.40" y="76.35" font-size="5.8" text-anchor="end" fill="#000" stroke="#000" stroke-width="0.18">10<tspan font-size="3.19" dy="-2.90">-8</tspan></text>
<line x1="303.20" y1="63.52" x2="305.20" y2="63.52" stroke="#b4b4b4" stroke-width="0.6" />
<text x="303.40" y="65.52" font-size="5.8" text-anchor="end" fill="#000" stroke="#000" stroke-width="0.18">10<tspan font-size="3.19" dy="-2.90">-7</tspan></text>
<line x1="303.20" y1="52.69" x2="305.20" y2="52.69" stroke="#b4b4b4" stroke-width="0.6" />
<text x="303.40" y="54.69" font-size="5.8" text-anchor="end" fill="#000" stroke="#000" stroke-width="0.18">10<tspan font-size="3.19" dy="-2.90">-6</tspan></text>
<line x1="303.20" y1="41.86" x2="305.20" y2="41.86" stroke="#b4b4b4" stroke-width="0.6" />
<text x="303.40" y="43.86" font-size="5.8" text-anchor="end" fill="#000" stroke="#000" stroke-width="0.18">10<tspan font-size="3.19" dy="-2.90">-5</tspan></text>
<line x1="303.20" y1="31.03" x2="305.20" y2="31.03" stroke="#b4b4b4" stroke-width="0.6" />
<text x="303.40" y="33.03" font-size="5.8" text-anchor="end" fill="#000" stroke="#000" stroke-width="0.18">10<tspan font-size="3.19" dy="-2.90">-4</tspan></text>
<line x1="303.20" y1="20.20" x2="305.20" y2="20.20" stroke="#b4b4b4" stroke-width="0.6" />
<text x="303.40" y="22.20" font-size="5.8" text-anchor="end" fill="#000" stroke="#000" stroke-width="0.18">10<tspan font-size="3.19" dy="-2.90">-3</tspan></text>
<line x1="305.20" y1="96.00" x2="305.20" y2="98.00" stroke="#b4b4b4" stroke-width="0.6" />
<text x="306.80" y="104.40" font-size="5.6" text-anchor="middle" fill="#000" stroke="#000" stroke-width="0.18">10<tspan font-size="3.08" dy="-2.80">-9</tspan></text>
<line x1="329.02" y1="96.00" x2="329.02" y2="98.00" stroke="#b4b4b4" stroke-width="0.6" />
<text x="330.62" y="104.40" font-size="5.6" text-anchor="middle" fill="#000" stroke="#000" stroke-width="0.18">10<tspan font-size="3.08" dy="-2.80">-8</tspan></text>
<line x1="352.85" y1="96.00" x2="352.85" y2="98.00" stroke="#b4b4b4" stroke-width="0.6" />
<text x="354.45" y="104.40" font-size="5.6" text-anchor="middle" fill="#000" stroke="#000" stroke-width="0.18">10<tspan font-size="3.08" dy="-2.80">-7</tspan></text>
<line x1="376.68" y1="96.00" x2="376.68" y2="98.00" stroke="#b4b4b4" stroke-width="0.6" />
<text x="378.28" y="104.40" font-size="5.6" text-anchor="middle" fill="#000" stroke="#000" stroke-width="0.18">10<tspan font-size="3.08" dy="-2.80">-6</tspan></text>
<line x1="400.50" y1="96.00" x2="400.50" y2="98.00" stroke="#b4b4b4" stroke-width="0.6" />
<text x="402.10" y="104.40" font-size="5.6" text-anchor="middle" fill="#000" stroke="#000" stroke-width="0.18">10<tspan font-size="3.08" dy="-2.80">-5</tspan></text>
<text x="345.00" y="113.20" font-size="8" text-anchor="start" fill="#000" stroke="#000" stroke-width="0.18" font-weight="normal" >I<tspan font-size="5" dy="1.6">ds</tspan><tspan dy="-1.6">(A)</tspan></text>
<text transform="translate(288.20,63.00) rotate(-90)" font-size="6.6" text-anchor="middle" fill="#000" stroke="#000" stroke-width="0.18">S<tspan font-size="4.5" dy="1.4">I</tspan><tspan dy="-1.4">/I</tspan><tspan font-size="4.5" dy="1.4">ds</tspan><tspan font-size="4.5" dy="-4">2</tspan><tspan dy="2.6">(Hz</tspan><tspan font-size="4.5" dy="-2.6">-1</tspan><tspan dy="2.6">)</tspan></text>
<clipPath id="clipc"><rect x="305.2" y="19.5" width="95.30000000000001" height="76.5"/></clipPath>
<g clip-path="url(#clipc)">
<line x1="305.20" y1="49.30" x2="385.00" y2="97.50" stroke="#ff8000" stroke-width="1.7" stroke-dasharray="8.5 5" stroke-dashoffset="-1"/>
<polyline points="305.20,53.10 306.81,53.73 309.03,54.61 311.66,55.65 314.50,56.76 317.35,57.84 320.00,58.80 322.49,59.68 324.99,60.57 327.49,61.42 329.99,62.23 332.50,62.97 335.00,63.60 337.38,64.12 339.63,64.55 341.88,64.90 344.26,65.20 346.92,65.46 350.00,65.70 353.58,65.91 357.57,66.08 361.84,66.21 366.26,66.31 370.69,66.40 375.00,66.50 379.52,66.59 384.41,66.68 389.31,66.75 393.87,66.81 397.72,66.86 400.50,66.90" stroke="#000080" stroke-width="1.6" fill="none" stroke-linejoin="round" stroke-linecap="round" />
</g>
<path d="M320.30,59.40L321.80,60.90L320.30,62.40L318.80,60.90Z" fill="#008000"/>
<path d="M336.00,63.80L337.50,65.30L336.00,66.80L334.50,65.30Z" fill="#008000"/>
<path d="M341.50,64.90L343.00,66.40L341.50,67.90L340.00,66.40Z" fill="#008000"/>
<path d="M346.00,65.30L347.50,66.80L346.00,68.30L344.50,66.80Z" fill="#008000"/>
<path d="M351.60,62.20L353.10,63.70L351.60,65.20L350.10,63.70Z" fill="#008000"/>
<path d="M354.50,64.00L356.00,65.50L354.50,67.00L353.00,65.50Z" fill="#008000"/>
<path d="M362.60,62.00L364.10,63.50L362.60,65.00L361.10,63.50Z" fill="#008000"/>
<path d="M367.00,60.70L368.50,62.20L367.00,63.70L365.50,62.20Z" fill="#008000"/>
<path d="M370.00,63.50L371.50,65.00L370.00,66.50L368.50,65.00Z" fill="#008000"/>
<path d="M372.70,61.50L374.20,63.00L372.70,64.50L371.20,63.00Z" fill="#008000"/>
<path d="M375.60,62.30L377.10,63.80L375.60,65.30L374.10,63.80Z" fill="#008000"/>
<path d="M378.50,60.50L380.00,62.00L378.50,63.50L377.00,62.00Z" fill="#008000"/>
<path d="M387.00,60.90L388.50,62.40L387.00,63.90L385.50,62.40Z" fill="#008000"/>
<path d="M389.00,59.50L390.50,61.00L389.00,62.50L387.50,61.00Z" fill="#008000"/>
<path d="M391.70,62.00L393.20,63.50L391.70,65.00L390.20,63.50Z" fill="#008000"/>
<path d="M394.50,61.60L396.00,63.10L394.50,64.60L393.00,63.10Z" fill="#008000"/>
<path d="M398.00,63.60L399.50,65.10L398.00,66.60L396.50,65.10Z" fill="#008000"/>
<text x="324.20" y="43.20" font-size="6.7" text-anchor="start" fill="#000" stroke="#000" stroke-width="0.22" font-weight="bold" >D<tspan font-size="3.9" dy="1.3">it</tspan><tspan dy="-1.3"> = 5.2×10</tspan><tspan font-size="3.9" dy="-2.7">8</tspan><tspan dy="2.7"> cm</tspan><tspan font-size="3.9" dy="-2.7">-2</tspan><tspan dy="2.7">eV</tspan><tspan font-size="3.9" dy="-2.7">-1</tspan></text>
<path d="M316.30,74.80L317.80,76.30L316.30,77.80L314.80,76.30Z" fill="#008000"/>
<text x="322.60" y="78.00" font-size="5.5" text-anchor="start" fill="#000" stroke="#000" stroke-width="0.18" font-weight="normal" >S<tspan font-size="3.8" dy="1">I</tspan><tspan dy="-1">/I</tspan><tspan font-size="3.8" dy="1">ds</tspan><tspan font-size="3.8" dy="-3">2</tspan></text>
<line x1="310.70" y1="84.30" x2="320.00" y2="84.30" stroke="#ff8000" stroke-width="1.7" />
<text x="322.60" y="86.30" font-size="5.5" text-anchor="start" fill="#000" stroke="#000" stroke-width="0.18" font-weight="normal" >CNF</text>
<line x1="310.70" y1="90.80" x2="320.00" y2="90.80" stroke="#000080" stroke-width="1.7" />
<text x="322.60" y="92.80" font-size="5.5" text-anchor="start" fill="#000" stroke="#000" stroke-width="0.18" font-weight="normal" >CNF+CMF</text>
<text x="5.80" y="131.90" font-size="8.3" text-anchor="start" fill="#000" stroke="#000" stroke-width="0.22" font-weight="bold" >(d)</text>
<rect x="32.00" y="136.50" width="95.20" height="75.50" fill="none" stroke="#c4c4c4" stroke-width="0.8"/>
<line x1="30.00" y1="212.00" x2="32.00" y2="212.00" stroke="#b4b4b4" stroke-width="0.6" />
<line x1="30.80" y1="204.45" x2="32.00" y2="204.45" stroke="#b4b4b4" stroke-width="0.6" />
<line x1="30.00" y1="196.90" x2="32.00" y2="196.90" stroke="#b4b4b4" stroke-width="0.6" />
<line x1="30.80" y1="189.35" x2="32.00" y2="189.35" stroke="#b4b4b4" stroke-width="0.6" />
<line x1="30.00" y1="181.80" x2="32.00" y2="181.80" stroke="#b4b4b4" stroke-width="0.6" />
<line x1="30.80" y1="174.25" x2="32.00" y2="174.25" stroke="#b4b4b4" stroke-width="0.6" />
<line x1="30.00" y1="166.70" x2="32.00" y2="166.70" stroke="#b4b4b4" stroke-width="0.6" />
<line x1="30.80" y1="159.15" x2="32.00" y2="159.15" stroke="#b4b4b4" stroke-width="0.6" />
<line x1="30.00" y1="151.60" x2="32.00" y2="151.60" stroke="#b4b4b4" stroke-width="0.6" />
<line x1="30.80" y1="144.05" x2="32.00" y2="144.05" stroke="#b4b4b4" stroke-width="0.6" />
<line x1="30.00" y1="136.50" x2="32.00" y2="136.50" stroke="#b4b4b4" stroke-width="0.6" />
<text x="30.80" y="138.80" font-size="6.6" text-anchor="end" fill="#000" stroke="#000" stroke-width="0.18">10<tspan font-size="3.63" dy="-3.30">-5</tspan></text>
<text x="30.80" y="153.90" font-size="6.6" text-anchor="end" fill="#000" stroke="#000" stroke-width="0.18">10<tspan font-size="3.63" dy="-3.30">-7</tspan></text>
<text x="30.80" y="169.00" font-size="6.6" text-anchor="end" fill="#000" stroke="#000" stroke-width="0.18">10<tspan font-size="3.63" dy="-3.30">-9</tspan></text>
<text x="30.80" y="184.10" font-size="6.6" text-anchor="end" fill="#000" stroke="#000" stroke-width="0.18">10<tspan font-size="3.63" dy="-3.30">-11</tspan></text>
<text x="30.80" y="199.20" font-size="6.6" text-anchor="end" fill="#000" stroke="#000" stroke-width="0.18">10<tspan font-size="3.63" dy="-3.30">-13</tspan></text>
<text x="30.80" y="214.30" font-size="6.6" text-anchor="end" fill="#000" stroke="#000" stroke-width="0.18">10<tspan font-size="3.63" dy="-3.30">-15</tspan></text>
<line x1="32.00" y1="212.00" x2="32.00" y2="214.00" stroke="#b4b4b4" stroke-width="0.6" />
<text x="32.00" y="220.20" font-size="6.8" text-anchor="middle" fill="#000" stroke="#000" stroke-width="0.18" font-weight="normal" >-2</text>
<line x1="59.20" y1="212.00" x2="59.20" y2="214.00" stroke="#b4b4b4" stroke-width="0.6" />
<text x="59.20" y="220.20" font-size="6.8" text-anchor="middle" fill="#000" stroke="#000" stroke-width="0.18" font-weight="normal" >0</text>
<line x1="86.40" y1="212.00" x2="86.40" y2="214.00" stroke="#b4b4b4" stroke-width="0.6" />
<text x="86.40" y="220.20" font-size="6.8" text-anchor="middle" fill="#000" stroke="#000" stroke-width="0.18" font-weight="normal" >2</text>
<line x1="113.60" y1="212.00" x2="113.60" y2="214.00" stroke="#b4b4b4" stroke-width="0.6" />
<text x="113.60" y="220.20" font-size="6.8" text-anchor="middle" fill="#000" stroke="#000" stroke-width="0.18" font-weight="normal" >4</text>
<text x="65.30" y="226.80" font-size="8.8" text-anchor="start" fill="#000" stroke="#000" stroke-width="0.18" font-weight="normal" >V<tspan font-size="5.6" dy="1.9">g</tspan><tspan dy="-1.9"> (V)</tspan></text>
<text transform="translate(16.80,180.00) rotate(-90)" font-size="7.8" text-anchor="middle" fill="#000" stroke="#000" stroke-width="0.18">I<tspan font-size="5.2" dy="1.7">ds</tspan><tspan dy="-1.7"> (A)</tspan></text>
<polygon points="32.40,199.58 33.20,199.31 34.00,199.81 34.80,200.10 35.60,200.55 36.40,200.45 37.20,200.98 38.00,201.47 38.80,200.51 39.60,201.21 40.40,201.38 41.20,200.80 42.00,200.85 42.80,201.40 43.60,199.93 44.40,200.44 45.20,199.69 46.00,200.31 46.80,200.28 47.60,199.43 47.60,205.06 46.80,205.02 46.00,204.84 45.20,205.38 44.40,206.37 43.60,205.26 42.80,206.24 42.00,205.78 41.20,206.23 40.40,205.59 39.60,206.62 38.80,205.85 38.00,205.96 37.20,206.33 36.40,205.98 35.60,205.71 34.80,205.88 34.00,205.52 33.20,205.44 32.40,204.64" fill="#000080"/>
<polyline points="38.00,204.50 42.00,205.60 45.00,206.50 47.30,208.00" stroke="#008000" stroke-width="1.8" fill="none" stroke-linejoin="round" stroke-linecap="round" />
<path d="M42.00,204.20L43.40,205.60L42.00,207.00L40.60,205.60Z" fill="#008000"/>
<path d="M45.50,205.40L46.90,206.80L45.50,208.20L44.10,206.80Z" fill="#008000"/>
<path d="M47.30,206.80L48.70,208.20L47.30,209.60L45.90,208.20Z" fill="#008000"/>
<polyline points="33.00,202.20 33.90,202.41 35.19,202.71 36.63,203.01 38.00,203.20 39.29,203.28 40.59,203.29 41.86,203.20 43.00,203.00 44.02,202.67 44.96,202.22 45.79,201.66 46.50,201.00 47.06,200.28 47.49,199.48 47.85,198.52 48.20,197.30 48.54,195.79 48.83,194.04 49.11,192.10 49.40,190.00 49.71,187.64 50.03,185.04 50.33,182.42 50.60,180.00 50.83,177.81 51.03,175.74 51.22,173.80 51.40,172.00 51.58,170.40 51.75,168.97 51.92,167.61 52.10,166.20 52.29,164.67 52.49,163.11 52.69,161.59 52.90,160.20 53.10,159.01 53.29,157.94 53.52,156.94 53.80,155.90 54.13,154.81 54.49,153.70 54.93,152.62 55.50,151.60 56.17,150.65 56.92,149.74 57.84,148.89 59.00,148.10 60.24,147.39 61.59,146.74 63.37,146.13 65.90,145.50 69.48,144.83 73.88,144.14 78.58,143.49 83.10,142.90 87.11,142.42 90.94,142.02 95.07,141.63 100.00,141.20 106.67,140.65 114.56,140.04 121.91,139.49 127.00,139.10" stroke="#000080" stroke-width="3.4" fill="none" stroke-linejoin="round" stroke-linecap="round" />
<path d="M48.20,194.60L50.10,196.50L48.20,198.40L46.30,196.50Z" fill="#000080"/>
<path d="M49.30,188.10L51.20,190.00L49.30,191.90L47.40,190.00Z" fill="#000080"/>
<path d="M50.50,179.10L52.40,181.00L50.50,182.90L48.60,181.00Z" fill="#000080"/>
<path d="M51.40,170.10L53.30,172.00L51.40,173.90L49.50,172.00Z" fill="#000080"/>
<path d="M52.10,164.60L54.00,166.50L52.10,168.40L50.20,166.50Z" fill="#000080"/>
<path d="M53.00,158.10L54.90,160.00L53.00,161.90L51.10,160.00Z" fill="#000080"/>
<path d="M54.00,153.60L55.90,155.50L54.00,157.40L52.10,155.50Z" fill="#000080"/>
<path d="M45.2,196V186.5" stroke="#000" stroke-width="0.7"/><path d="M43.900000000000006,187.3L45.2,184.5L46.5,187.3Z" fill="#000"/>
<path d="M52.4,184.5V194.5" stroke="#000" stroke-width="0.7"/><path d="M51.1,193.7L52.4,196.5L53.699999999999996,193.7Z" fill="#000"/>
<line x1="65.70" y1="164.50" x2="78.90" y2="164.50" stroke="#008000" stroke-width="0.7" />
<path d="M72.60,163.20L73.90,164.50L72.60,165.80L71.30,164.50Z" fill="#008000"/>
<text x="80.30" y="166.80" font-size="6.0" text-anchor="start" fill="#000" stroke="#000" stroke-width="0.18" font-weight="normal" >Start from -5 V</text>
<line x1="65.70" y1="171.80" x2="78.90" y2="171.80" stroke="#000080" stroke-width="0.7" />
<path d="M72.60,170.50L73.90,171.80L72.60,173.10L71.30,171.80Z" fill="#000080"/>
<text x="80.30" y="174.10" font-size="6.0" text-anchor="start" fill="#000" stroke="#000" stroke-width="0.18" font-weight="normal" >Start from 5 V</text>
<text x="147.60" y="131.60" font-size="8.2" text-anchor="start" fill="#000" stroke="#000" stroke-width="0.22" font-weight="bold" >(e)</text>
<rect x="171.70" y="136.10" width="95.90" height="75.40" fill="none" stroke="#c4c4c4" stroke-width="0.8"/>
<line x1="169.70" y1="203.90" x2="171.70" y2="203.90" stroke="#b4b4b4" stroke-width="0.6" />
<text x="170.50" y="206.20" font-size="6.6" text-anchor="end" fill="#000" stroke="#000" stroke-width="0.18">10<tspan font-size="3.63" dy="-3.30">-11</tspan></text>
<line x1="169.70" y1="192.60" x2="171.70" y2="192.60" stroke="#b4b4b4" stroke-width="0.6" />
<text x="170.50" y="194.90" font-size="6.6" text-anchor="end" fill="#000" stroke="#000" stroke-width="0.18">10<tspan font-size="3.63" dy="-3.30">-10</tspan></text>
<line x1="169.70" y1="181.30" x2="171.70" y2="181.30" stroke="#b4b4b4" stroke-width="0.6" />
<text x="170.50" y="183.60" font-size="6.6" text-anchor="end" fill="#000" stroke="#000" stroke-width="0.18">10<tspan font-size="3.63" dy="-3.30">-9</tspan></text>
<line x1="169.70" y1="170.00" x2="171.70" y2="170.00" stroke="#b4b4b4" stroke-width="0.6" />
<text x="170.50" y="172.30" font-size="6.6" text-anchor="end" fill="#000" stroke="#000" stroke-width="0.18">10<tspan font-size="3.63" dy="-3.30">-8</tspan></text>
<line x1="169.70" y1="158.70" x2="171.70" y2="158.70" stroke="#b4b4b4" stroke-width="0.6" />
<text x="170.50" y="161.00" font-size="6.6" text-anchor="end" fill="#000" stroke="#000" stroke-width="0.18">10<tspan font-size="3.63" dy="-3.30">-7</tspan></text>
<line x1="169.70" y1="147.40" x2="171.70" y2="147.40" stroke="#b4b4b4" stroke-width="0.6" />
<text x="170.50" y="149.70" font-size="6.6" text-anchor="end" fill="#000" stroke="#000" stroke-width="0.18">10<tspan font-size="3.63" dy="-3.30">-6</tspan></text>
<line x1="169.70" y1="136.10" x2="171.70" y2="136.10" stroke="#b4b4b4" stroke-width="0.6" />
<text x="170.50" y="138.40" font-size="6.6" text-anchor="end" fill="#000" stroke="#000" stroke-width="0.18">10<tspan font-size="3.63" dy="-3.30">-5</tspan></text>
<line x1="178.90" y1="211.50" x2="178.90" y2="213.50" stroke="#b4b4b4" stroke-width="0.6" />
<text x="178.90" y="219.80" font-size="6.8" text-anchor="middle" fill="#000" stroke="#000" stroke-width="0.18" font-weight="normal" >-2</text>
<line x1="204.00" y1="211.50" x2="204.00" y2="213.50" stroke="#b4b4b4" stroke-width="0.6" />
<text x="204.00" y="219.80" font-size="6.8" text-anchor="middle" fill="#000" stroke="#000" stroke-width="0.18" font-weight="normal" >0</text>
<line x1="229.10" y1="211.50" x2="229.10" y2="213.50" stroke="#b4b4b4" stroke-width="0.6" />
<text x="229.10" y="219.80" font-size="6.8" text-anchor="middle" fill="#000" stroke="#000" stroke-width="0.18" font-weight="normal" >2</text>
<line x1="254.20" y1="211.50" x2="254.20" y2="213.50" stroke="#b4b4b4" stroke-width="0.6" />
<text x="254.20" y="219.80" font-size="6.8" text-anchor="middle" fill="#000" stroke="#000" stroke-width="0.18" font-weight="normal" >4</text>
<text x="208.20" y="226.80" font-size="8.8" text-anchor="start" fill="#000" stroke="#000" stroke-width="0.18" font-weight="normal" >V<tspan font-size="5.6" dy="1.9">g</tspan><tspan dy="-1.9"> (V)</tspan></text>
<text transform="translate(157.40,172.40) rotate(-90)" font-size="7.8" text-anchor="middle" fill="#000" stroke="#000" stroke-width="0.18">I<tspan font-size="5.2" dy="1.7">ds</tspan><tspan dy="-1.7"> (A)</tspan></text>
<polygon points="172.50,206.12 173.30,206.69 174.10,206.69 174.90,207.08 175.70,206.59 176.50,206.47 177.30,206.41 178.10,207.14 178.90,207.42 179.70,206.84 180.50,206.41 181.30,207.22 182.10,206.65 182.90,206.40 183.70,206.28 184.50,207.19 185.30,207.23 186.10,206.99 186.90,206.76 187.70,206.89 188.50,206.42 189.30,207.45 190.10,206.59 190.90,206.99 191.70,207.25 192.50,207.24 193.30,206.76 194.10,206.51 194.90,206.87 195.70,206.28 196.50,207.27 197.00,211.90 172.50,211.90" fill="#000080"/>
<circle cx="173.00" cy="208.96" r="0.9" fill="#008000"/>
<circle cx="173.90" cy="208.70" r="0.9" fill="#000080"/>
<circle cx="174.80" cy="209.96" r="0.9" fill="#000080"/>
<circle cx="175.70" cy="209.94" r="0.9" fill="#000080"/>
<circle cx="176.60" cy="207.91" r="0.9" fill="#000080"/>
<circle cx="177.50" cy="208.97" r="0.9" fill="#000080"/>
<circle cx="178.40" cy="208.86" r="0.9" fill="#000080"/>
<circle cx="179.30" cy="209.19" r="0.9" fill="#000000"/>
<circle cx="180.20" cy="209.88" r="0.9" fill="#000080"/>
<circle cx="181.10" cy="208.36" r="0.9" fill="#000080"/>
<circle cx="182.00" cy="210.46" r="0.9" fill="#000000"/>
<circle cx="182.90" cy="208.16" r="0.9" fill="#ff8000"/>
<circle cx="183.80" cy="210.62" r="0.9" fill="#008000"/>
<circle cx="184.70" cy="209.49" r="0.9" fill="#000080"/>
<circle cx="185.60" cy="209.80" r="0.9" fill="#000000"/>
<circle cx="186.50" cy="209.87" r="0.9" fill="#008000"/>
<circle cx="187.40" cy="210.76" r="0.9" fill="#000080"/>
<circle cx="188.30" cy="208.65" r="0.9" fill="#000000"/>
<circle cx="189.20" cy="209.64" r="0.9" fill="#008000"/>
<circle cx="190.10" cy="208.46" r="0.9" fill="#000080"/>
<circle cx="191.00" cy="208.94" r="0.9" fill="#008000"/>
<circle cx="191.90" cy="208.53" r="0.9" fill="#000080"/>
<circle cx="192.80" cy="210.28" r="0.9" fill="#008000"/>
<circle cx="193.70" cy="209.73" r="0.9" fill="#ff8000"/>
<circle cx="194.60" cy="210.83" r="0.9" fill="#000000"/>
<circle cx="195.50" cy="209.91" r="0.9" fill="#ff8000"/>
<circle cx="186.50" cy="205.00" r="1.1" fill="#ff8000"/>
<circle cx="185.50" cy="205.80" r="1.1" fill="#ff8000"/>
<circle cx="188.00" cy="205.40" r="1.1" fill="#ff8000"/>
<circle cx="180.00" cy="208.00" r="1.1" fill="#ff8000"/>
<circle cx="176.00" cy="207.50" r="1.1" fill="#ff8000"/>
<circle cx="192.00" cy="208.40" r="1.1" fill="#ff8000"/>
<polygon points="198.54,209.65 198.67,208.15 198.85,206.06 199.06,203.59 199.29,200.97 199.52,198.43 199.74,196.18 199.95,194.21 200.16,192.35 200.37,190.55 200.59,188.79 200.81,187.02 201.04,185.22 201.27,183.34 201.52,181.41 201.77,179.47 202.01,177.59 202.24,175.82 202.44,174.21 202.61,172.78 202.75,171.50 202.87,170.34 203.05,169.27 203.24,168.26 203.43,167.25 203.63,166.24 203.81,165.30 203.99,164.43 204.17,163.62 204.38,162.87 204.64,162.09 204.93,161.28 205.21,160.49 205.49,159.80 205.80,159.20 206.11,158.64 206.54,158.03 207.08,157.35 207.61,156.72 208.15,156.17 208.83,155.62 209.78,155.00 211.11,154.29 212.95,153.47 215.22,152.55 217.77,151.58 220.45,150.63 223.12,149.74 225.65,148.99 227.91,148.39 230.01,147.93 232.14,147.54 234.47,147.14 237.17,146.69 240.40,146.12 244.55,145.38 249.58,144.48 254.96,143.54 260.13,142.63 264.55,141.86 267.65,141.32 266.95,137.08 263.83,137.58 259.40,138.28 254.22,139.11 248.82,139.97 243.76,140.79 239.60,141.48 236.40,141.99 233.71,142.40 231.33,142.76 229.08,143.15 226.80,143.61 224.35,144.21 221.66,144.98 218.85,145.86 216.05,146.81 213.37,147.79 210.95,148.78 208.89,149.71 207.21,150.59 205.85,151.48 204.74,152.38 203.85,153.27 203.14,154.12 202.46,154.97 201.77,155.96 201.21,157.02 200.83,158.07 200.56,159.06 200.36,159.99 200.16,160.91 199.98,161.87 199.84,162.86 199.75,163.82 199.68,164.77 199.63,165.74 199.57,166.75 199.50,167.81 199.45,168.87 199.39,169.97 199.27,171.13 199.13,172.39 198.96,173.79 198.76,175.38 198.54,177.15 198.30,179.03 198.05,180.96 197.80,182.90 197.56,184.78 197.34,186.59 197.12,188.36 196.90,190.13 196.68,191.95 196.47,193.83 196.26,195.82 196.04,198.10 195.81,200.66 195.58,203.29 195.36,205.76 195.19,207.85 195.06,209.35" fill="#ff8000" />
<polygon points="198.29,209.63 198.42,208.13 198.60,206.03 198.81,203.57 199.04,200.95 199.27,198.40 199.49,196.15 199.70,194.19 199.91,192.32 200.13,190.52 200.34,188.76 200.56,186.99 200.79,185.19 201.02,183.31 201.27,181.38 201.52,179.44 201.76,177.56 201.99,175.79 202.19,174.18 202.36,172.76 202.50,171.48 202.62,170.32 202.80,169.25 202.99,168.23 203.19,167.22 203.38,166.21 203.56,165.27 203.74,164.40 203.93,163.58 204.14,162.81 204.40,162.03 204.69,161.21 204.97,160.42 205.26,159.72 205.58,159.09 205.90,158.51 206.34,157.88 206.89,157.19 207.43,156.55 207.98,155.98 208.68,155.41 209.65,154.78 211.00,154.07 212.85,153.24 215.13,152.31 217.68,151.34 220.37,150.39 223.05,149.50 225.59,148.74 227.86,148.15 229.96,147.69 232.09,147.29 234.43,146.90 237.13,146.44 240.35,145.88 244.50,145.13 249.54,144.24 254.92,143.29 260.09,142.39 264.50,141.62 267.61,141.07 266.99,137.33 263.87,137.83 259.44,138.53 254.26,139.36 248.86,140.22 243.80,141.04 239.65,141.72 236.44,142.24 233.75,142.64 231.37,143.01 229.13,143.39 226.86,143.86 224.41,144.46 221.73,145.22 218.93,146.09 216.13,147.04 213.46,148.03 211.05,149.01 209.00,149.93 207.34,150.81 205.99,151.68 204.90,152.57 204.03,153.44 203.33,154.28 202.66,155.12 201.98,156.09 201.43,157.13 201.06,158.16 200.80,159.14 200.60,160.06 200.40,160.97 200.22,161.93 200.09,162.90 200.00,163.85 199.93,164.80 199.88,165.77 199.81,166.78 199.75,167.84 199.70,168.90 199.64,170.00 199.52,171.15 199.38,172.41 199.21,173.82 199.01,175.41 198.79,177.18 198.54,179.06 198.29,180.99 198.05,182.93 197.81,184.81 197.59,186.62 197.37,188.39 197.15,190.16 196.93,191.97 196.72,193.86 196.51,195.85 196.29,198.12 196.05,200.68 195.82,203.31 195.61,205.78 195.43,207.87 195.31,209.37" fill="#000080" />
<path d="M197.20,200.00L199.20,202.00L197.20,204.00L195.20,202.00Z" fill="#000080"/>
<path d="M198.40,190.00L200.40,192.00L198.40,194.00L196.40,192.00Z" fill="#000080"/>
<path d="M199.40,182.00L201.40,184.00L199.40,186.00L197.40,184.00Z" fill="#000080"/>
<path d="M200.40,174.00L202.40,176.00L200.40,178.00L198.40,176.00Z" fill="#000080"/>
<path d="M201.20,167.50L203.20,169.50L201.20,171.50L199.20,169.50Z" fill="#000080"/>
<path d="M202.20,162.00L204.20,164.00L202.20,166.00L200.20,164.00Z" fill="#000080"/>
<path d="M203.80,157.00L205.80,159.00L203.80,161.00L201.80,159.00Z" fill="#000080"/>
<path d="M194.3,202V193.4" stroke="#000" stroke-width="0.7"/><path d="M193.0,194.20000000000002L194.3,191.4L195.60000000000002,194.20000000000002Z" fill="#000"/>
<path d="M201,194.5V202.5" stroke="#000" stroke-width="0.7"/><path d="M199.7,201.7L201,204.5L202.3,201.7Z" fill="#000"/>
<line x1="172.00" y1="142.90" x2="186.00" y2="142.90" stroke="#000000" stroke-width="0.6" />
<circle cx="179.10" cy="142.90" r="1.25" fill="#000000"/>
<text x="186.90" y="145.20" font-size="6.1" text-anchor="start" fill="#000" stroke="#000" stroke-width="0.18" font-weight="normal" >5 (V/s)</text>
<line x1="172.00" y1="149.95" x2="186.00" y2="149.95" stroke="#ff0000" stroke-width="0.6" />
<circle cx="179.10" cy="149.95" r="1.25" fill="#ff0000"/>
<text x="186.90" y="152.25" font-size="6.1" text-anchor="start" fill="#000" stroke="#000" stroke-width="0.18" font-weight="normal" >1.5</text>
<line x1="172.00" y1="157.00" x2="186.00" y2="157.00" stroke="#ff8000" stroke-width="0.6" />
<circle cx="179.10" cy="157.00" r="1.25" fill="#ff8000"/>
<text x="186.90" y="159.30" font-size="6.1" text-anchor="start" fill="#000" stroke="#000" stroke-width="0.18" font-weight="normal" >0.2</text>
<line x1="172.00" y1="164.05" x2="186.00" y2="164.05" stroke="#008000" stroke-width="0.6" />
<circle cx="179.10" cy="164.05" r="1.25" fill="#008000"/>
<text x="186.90" y="166.35" font-size="6.1" text-anchor="start" fill="#000" stroke="#000" stroke-width="0.18" font-weight="normal" >0.1</text>
<line x1="172.00" y1="171.10" x2="186.00" y2="171.10" stroke="#000080" stroke-width="0.6" />
<circle cx="179.10" cy="171.10" r="1.25" fill="#000080"/>
<text x="186.90" y="173.40" font-size="6.1" text-anchor="start" fill="#000" stroke="#000" stroke-width="0.18" font-weight="normal" >0.02</text>
<rect x="218.50" y="161.40" width="47.30" height="39.20" fill="#fff"/>
<rect x="218.50" y="161.40" width="47.30" height="39.20" fill="none" stroke="#c8c8c8" stroke-width="0.6"/>
<line x1="217.30" y1="199.00" x2="218.50" y2="199.00" stroke="#b4b4b4" stroke-width="0.5" />
<text x="216.70" y="200.70" font-size="4.8" text-anchor="end" fill="#000" stroke="#000" stroke-width="0.18" font-weight="normal" >0</text>
<line x1="217.30" y1="187.93" x2="218.50" y2="187.93" stroke="#b4b4b4" stroke-width="0.5" />
<text x="216.70" y="189.63" font-size="4.8" text-anchor="end" fill="#000" stroke="#000" stroke-width="0.18" font-weight="normal" >30</text>
<line x1="217.30" y1="176.86" x2="218.50" y2="176.86" stroke="#b4b4b4" stroke-width="0.5" />
<text x="216.70" y="178.56" font-size="4.8" text-anchor="end" fill="#000" stroke="#000" stroke-width="0.18" font-weight="normal" >60</text>
<line x1="217.30" y1="165.79" x2="218.50" y2="165.79" stroke="#b4b4b4" stroke-width="0.5" />
<text x="216.70" y="167.49" font-size="4.8" text-anchor="end" fill="#000" stroke="#000" stroke-width="0.18" font-weight="normal" >90</text>
<text x="216.10" y="204.60" font-size="4.8" text-anchor="middle" fill="#000" stroke="#000" stroke-width="0.18" font-weight="normal" >0.01</text>
<text x="232.30" y="204.60" font-size="4.8" text-anchor="middle" fill="#000" stroke="#000" stroke-width="0.18" font-weight="normal" >0.1</text>
<text x="248.50" y="204.60" font-size="4.8" text-anchor="middle" fill="#000" stroke="#000" stroke-width="0.18" font-weight="normal" >1</text>
<text x="264.70" y="204.60" font-size="4.8" text-anchor="middle" fill="#000" stroke="#000" stroke-width="0.18" font-weight="normal" >10</text>
<text x="242.00" y="208.50" font-size="4.8" text-anchor="middle" fill="#000" stroke="#000" stroke-width="0.18" font-weight="normal" >Sweeping rate (V/s)</text>
<text transform="translate(211.40,184.00) rotate(-90)" font-size="4.8" text-anchor="middle" fill="#000" stroke="#000" stroke-width="0.18">ΔV<tspan font-size="3.6" dy="1.1">th</tspan><tspan dy="-1.1"> (mV)</tspan></text>
<polyline points="222.80,180.60 234.00,180.60 238.50,180.60 252.50,180.60 261.00,184.70" stroke="#ff0000" stroke-width="0.6" fill="none" stroke-linejoin="round" stroke-linecap="round" />
<circle cx="222.80" cy="180.60" r="1.0" fill="#ff0000"/>
<circle cx="234.00" cy="180.60" r="1.0" fill="#ff0000"/>
<circle cx="238.50" cy="180.60" r="1.0" fill="#ff0000"/>
<circle cx="252.50" cy="180.60" r="1.0" fill="#ff0000"/>
<circle cx="261.00" cy="184.70" r="1.0" fill="#ff0000"/>
<text x="281.80" y="130.50" font-size="8.7" text-anchor="start" fill="#000" stroke="#000" stroke-width="0.22" font-weight="bold" >(f)</text>
<rect x="306.00" y="137.40" width="95.40" height="75.00" fill="none" stroke="#c4c4c4" stroke-width="0.8"/>
<line x1="304.00" y1="212.52" x2="306.00" y2="212.52" stroke="#b4b4b4" stroke-width="0.6" />
<line x1="304.80" y1="204.08" x2="306.00" y2="204.08" stroke="#b4b4b4" stroke-width="0.6" />
<line x1="304.00" y1="195.64" x2="306.00" y2="195.64" stroke="#b4b4b4" stroke-width="0.6" />
<line x1="304.80" y1="187.20" x2="306.00" y2="187.20" stroke="#b4b4b4" stroke-width="0.6" />
<line x1="304.00" y1="178.76" x2="306.00" y2="178.76" stroke="#b4b4b4" stroke-width="0.6" />
<line x1="304.80" y1="170.32" x2="306.00" y2="170.32" stroke="#b4b4b4" stroke-width="0.6" />
<line x1="304.00" y1="161.88" x2="306.00" y2="161.88" stroke="#b4b4b4" stroke-width="0.6" />
<line x1="304.80" y1="153.44" x2="306.00" y2="153.44" stroke="#b4b4b4" stroke-width="0.6" />
<line x1="304.00" y1="145.00" x2="306.00" y2="145.00" stroke="#b4b4b4" stroke-width="0.6" />
<line x1="304.80" y1="136.56" x2="306.00" y2="136.56" stroke="#b4b4b4" stroke-width="0.6" />
<text x="304.60" y="147.30" font-size="6.5" text-anchor="end" fill="#000" stroke="#000" stroke-width="0.18">10<tspan font-size="3.58" dy="-3.25">-6</tspan></text>
<text x="304.60" y="164.18" font-size="6.5" text-anchor="end" fill="#000" stroke="#000" stroke-width="0.18">10<tspan font-size="3.58" dy="-3.25">-8</tspan></text>
<text x="304.60" y="181.06" font-size="6.5" text-anchor="end" fill="#000" stroke="#000" stroke-width="0.18">10<tspan font-size="3.58" dy="-3.25">-10</tspan></text>
<text x="304.60" y="197.94" font-size="6.5" text-anchor="end" fill="#000" stroke="#000" stroke-width="0.18">10<tspan font-size="3.58" dy="-3.25">-12</tspan></text>
<text x="304.60" y="214.82" font-size="6.5" text-anchor="end" fill="#000" stroke="#000" stroke-width="0.18">10<tspan font-size="3.58" dy="-3.25">-14</tspan></text>
<line x1="318.50" y1="212.40" x2="318.50" y2="214.40" stroke="#b4b4b4" stroke-width="0.6" />
<text x="318.50" y="220.30" font-size="6.8" text-anchor="middle" fill="#000" stroke="#000" stroke-width="0.18" font-weight="normal" >-2</text>
<line x1="342.10" y1="212.40" x2="342.10" y2="214.40" stroke="#b4b4b4" stroke-width="0.6" />
<text x="342.10" y="219.20" font-size="6.8" text-anchor="middle" fill="#000" stroke="#000" stroke-width="0.18" font-weight="normal" >0</text>
<line x1="365.70" y1="212.40" x2="365.70" y2="214.40" stroke="#b4b4b4" stroke-width="0.6" />
<text x="365.70" y="220.30" font-size="6.8" text-anchor="middle" fill="#000" stroke="#000" stroke-width="0.18" font-weight="normal" >2</text>
<line x1="389.30" y1="212.40" x2="389.30" y2="214.40" stroke="#b4b4b4" stroke-width="0.6" />
<text x="389.30" y="220.30" font-size="6.8" text-anchor="middle" fill="#000" stroke="#000" stroke-width="0.18" font-weight="normal" >4</text>
<text x="342.80" y="227.60" font-size="8.8" text-anchor="start" fill="#000" stroke="#000" stroke-width="0.18" font-weight="normal" >V<tspan font-size="5.6" dy="1.9">g</tspan><tspan dy="-1.9"> (V)</tspan></text>
<text transform="translate(288.60,184.50) rotate(-90)" font-size="8" text-anchor="middle" fill="#000" stroke="#000" stroke-width="0.18">I<tspan font-size="5.2" dy="1.7">ds</tspan><tspan dy="-1.7"> (A)</tspan></text>
<polygon points="306.40,206.20 307.30,206.27 308.20,205.38 309.10,206.07 310.00,205.84 310.90,206.14 311.80,205.71 312.70,206.34 313.60,205.88 314.50,205.47 315.40,205.43 316.30,205.30 317.20,205.79 318.10,205.18 319.00,205.75 319.00,212.00 306.40,212.00" fill="#ff8000"/>
<circle cx="309.50" cy="209.60" r="1.1" fill="#ff0000"/>
<circle cx="313.00" cy="210.20" r="1.1" fill="#ff0000"/>
<polygon points="318.00,206.10 318.96,206.59 319.92,206.60 320.88,206.66 321.83,207.11 322.79,205.91 323.75,207.08 324.71,206.56 325.67,206.69 326.62,206.83 327.58,207.08 328.54,206.42 329.50,206.49 329.50,212.00 318.00,212.00" fill="#008000"/>
<polygon points="329.00,207.84 330.00,206.61 331.00,207.39 332.00,207.39 333.00,206.54 334.00,207.35 335.00,207.46 336.00,207.80 336.00,212.00 329.00,212.00" fill="#000080"/>
<clipPath id="cf0"><rect x="300" y="130" width="54.60000000000002" height="90"/></clipPath>
<polygon points="335.24,210.65 335.29,210.16 335.35,209.57 335.42,208.84 335.52,207.90 335.66,206.70 335.84,205.18 336.09,203.17 336.40,200.70 336.76,197.97 337.12,195.16 337.45,192.50 337.74,190.17 337.97,188.21 338.17,186.46 338.35,184.85 338.52,183.30 338.68,181.76 338.84,180.14 339.00,178.44 339.15,176.71 339.29,174.99 339.43,173.31 339.58,171.69 339.74,170.16 339.92,168.69 340.10,167.26 340.28,165.90 340.48,164.60 340.69,163.41 340.92,162.31 341.15,161.33 341.38,160.47 341.67,159.72 341.97,159.03 342.29,158.39 342.66,157.73 343.05,157.08 343.44,156.48 343.83,155.94 344.24,155.47 344.67,155.04 345.15,154.66 345.70,154.31 346.35,153.98 347.09,153.65 347.92,153.33 348.80,153.00 349.72,152.67 350.57,152.37 351.37,152.11 352.20,151.84 353.13,151.56 354.22,151.23 355.56,150.85 357.17,150.38 359.01,149.84 360.99,149.27 363.05,148.70 365.08,148.18 367.01,147.73 368.85,147.35 370.69,147.03 372.53,146.74 374.39,146.46 376.31,146.19 378.28,145.89 380.32,145.58 382.42,145.25 384.56,144.93 386.68,144.62 388.76,144.31 390.74,144.04 392.75,143.77 394.85,143.50 396.89,143.25 398.77,143.02 400.35,142.83 401.51,142.69 401.09,139.11 399.94,139.24 398.35,139.42 396.47,139.63 394.41,139.86 392.29,140.11 390.26,140.36 388.25,140.63 386.16,140.91 384.02,141.21 381.87,141.51 379.76,141.81 377.72,142.11 375.77,142.38 373.86,142.64 371.96,142.90 370.06,143.18 368.14,143.50 366.19,143.87 364.15,144.33 362.04,144.86 359.93,145.42 357.91,145.98 356.06,146.50 354.44,146.95 353.10,147.33 351.97,147.65 350.98,147.94 350.07,148.23 349.19,148.57 348.28,148.93 347.36,149.31 346.44,149.70 345.51,150.11 344.59,150.58 343.69,151.12 342.85,151.74 342.11,152.44 341.49,153.17 340.96,153.93 340.51,154.70 340.11,155.48 339.74,156.27 339.40,157.07 339.10,157.90 338.83,158.76 338.60,159.66 338.34,160.62 338.08,161.69 337.84,162.87 337.62,164.14 337.42,165.48 337.22,166.88 337.04,168.34 336.86,169.84 336.69,171.41 336.54,173.06 336.40,174.76 336.26,176.47 336.11,178.18 335.96,179.86 335.80,181.46 335.64,183.00 335.47,184.53 335.29,186.13 335.09,187.88 334.86,189.83 334.58,192.14 334.24,194.80 333.88,197.60 333.53,200.33 333.21,202.81 332.96,204.82 332.78,206.36 332.64,207.58 332.54,208.54 332.46,209.28 332.41,209.87 332.36,210.35" fill="#000080" clip-path="url(#cf0)"/>
<clipPath id="cf1"><rect x="354.6" y="130" width="12.0" height="90"/></clipPath>
<polygon points="335.24,210.65 335.29,210.16 335.35,209.57 335.42,208.84 335.52,207.90 335.66,206.70 335.84,205.18 336.09,203.17 336.40,200.70 336.76,197.97 337.12,195.16 337.45,192.50 337.74,190.17 337.97,188.21 338.17,186.46 338.35,184.85 338.52,183.30 338.68,181.76 338.84,180.14 339.00,178.44 339.15,176.71 339.29,174.99 339.43,173.31 339.58,171.69 339.74,170.16 339.92,168.69 340.10,167.26 340.28,165.90 340.48,164.60 340.69,163.41 340.92,162.31 341.15,161.33 341.38,160.47 341.67,159.72 341.97,159.03 342.29,158.39 342.66,157.73 343.05,157.08 343.44,156.48 343.83,155.94 344.24,155.47 344.67,155.04 345.15,154.66 345.70,154.31 346.35,153.98 347.09,153.65 347.92,153.33 348.80,153.00 349.72,152.67 350.57,152.37 351.37,152.11 352.20,151.84 353.13,151.56 354.22,151.23 355.56,150.85 357.17,150.38 359.01,149.84 360.99,149.27 363.05,148.70 365.08,148.18 367.01,147.73 368.85,147.35 370.69,147.03 372.53,146.74 374.39,146.46 376.31,146.19 378.28,145.89 380.32,145.58 382.42,145.25 384.56,144.93 386.68,144.62 388.76,144.31 390.74,144.04 392.75,143.77 394.85,143.50 396.89,143.25 398.77,143.02 400.35,142.83 401.51,142.69 401.09,139.11 399.94,139.24 398.35,139.42 396.47,139.63 394.41,139.86 392.29,140.11 390.26,140.36 388.25,140.63 386.16,140.91 384.02,141.21 381.87,141.51 379.76,141.81 377.72,142.11 375.77,142.38 373.86,142.64 371.96,142.90 370.06,143.18 368.14,143.50 366.19,143.87 364.15,144.33 362.04,144.86 359.93,145.42 357.91,145.98 356.06,146.50 354.44,146.95 353.10,147.33 351.97,147.65 350.98,147.94 350.07,148.23 349.19,148.57 348.28,148.93 347.36,149.31 346.44,149.70 345.51,150.11 344.59,150.58 343.69,151.12 342.85,151.74 342.11,152.44 341.49,153.17 340.96,153.93 340.51,154.70 340.11,155.48 339.74,156.27 339.40,157.07 339.10,157.90 338.83,158.76 338.60,159.66 338.34,160.62 338.08,161.69 337.84,162.87 337.62,164.14 337.42,165.48 337.22,166.88 337.04,168.34 336.86,169.84 336.69,171.41 336.54,173.06 336.40,174.76 336.26,176.47 336.11,178.18 335.96,179.86 335.80,181.46 335.64,183.00 335.47,184.53 335.29,186.13 335.09,187.88 334.86,189.83 334.58,192.14 334.24,194.80 333.88,197.60 333.53,200.33 333.21,202.81 332.96,204.82 332.78,206.36 332.64,207.58 332.54,208.54 332.46,209.28 332.41,209.87 332.36,210.35" fill="#008000" clip-path="url(#cf1)"/>
<clipPath id="cf2"><rect x="366.6" y="130" width="11.399999999999977" height="90"/></clipPath>
<polygon points="335.24,210.65 335.29,210.16 335.35,209.57 335.42,208.84 335.52,207.90 335.66,206.70 335.84,205.18 336.09,203.17 336.40,200.70 336.76,197.97 337.12,195.16 337.45,192.50 337.74,190.17 337.97,188.21 338.17,186.46 338.35,184.85 338.52,183.30 338.68,181.76 338.84,180.14 339.00,178.44 339.15,176.71 339.29,174.99 339.43,173.31 339.58,171.69 339.74,170.16 339.92,168.69 340.10,167.26 340.28,165.90 340.48,164.60 340.69,163.41 340.92,162.31 341.15,161.33 341.38,160.47 341.67,159.72 341.97,159.03 342.29,158.39 342.66,157.73 343.05,157.08 343.44,156.48 343.83,155.94 344.24,155.47 344.67,155.04 345.15,154.66 345.70,154.31 346.35,153.98 347.09,153.65 347.92,153.33 348.80,153.00 349.72,152.67 350.57,152.37 351.37,152.11 352.20,151.84 353.13,151.56 354.22,151.23 355.56,150.85 357.17,150.38 359.01,149.84 360.99,149.27 363.05,148.70 365.08,148.18 367.01,147.73 368.85,147.35 370.69,147.03 372.53,146.74 374.39,146.46 376.31,146.19 378.28,145.89 380.32,145.58 382.42,145.25 384.56,144.93 386.68,144.62 388.76,144.31 390.74,144.04 392.75,143.77 394.85,143.50 396.89,143.25 398.77,143.02 400.35,142.83 401.51,142.69 401.09,139.11 399.94,139.24 398.35,139.42 396.47,139.63 394.41,139.86 392.29,140.11 390.26,140.36 388.25,140.63 386.16,140.91 384.02,141.21 381.87,141.51 379.76,141.81 377.72,142.11 375.77,142.38 373.86,142.64 371.96,142.90 370.06,143.18 368.14,143.50 366.19,143.87 364.15,144.33 362.04,144.86 359.93,145.42 357.91,145.98 356.06,146.50 354.44,146.95 353.10,147.33 351.97,147.65 350.98,147.94 350.07,148.23 349.19,148.57 348.28,148.93 347.36,149.31 346.44,149.70 345.51,150.11 344.59,150.58 343.69,151.12 342.85,151.74 342.11,152.44 341.49,153.17 340.96,153.93 340.51,154.70 340.11,155.48 339.74,156.27 339.40,157.07 339.10,157.90 338.83,158.76 338.60,159.66 338.34,160.62 338.08,161.69 337.84,162.87 337.62,164.14 337.42,165.48 337.22,166.88 337.04,168.34 336.86,169.84 336.69,171.41 336.54,173.06 336.40,174.76 336.26,176.47 336.11,178.18 335.96,179.86 335.80,181.46 335.64,183.00 335.47,184.53 335.29,186.13 335.09,187.88 334.86,189.83 334.58,192.14 334.24,194.80 333.88,197.60 333.53,200.33 333.21,202.81 332.96,204.82 332.78,206.36 332.64,207.58 332.54,208.54 332.46,209.28 332.41,209.87 332.36,210.35" fill="#ff8000" clip-path="url(#cf2)"/>
<clipPath id="cf3"><rect x="378" y="130" width="12.5" height="90"/></clipPath>
<polygon points="335.24,210.65 335.29,210.16 335.35,209.57 335.42,208.84 335.52,207.90 335.66,206.70 335.84,205.18 336.09,203.17 336.40,200.70 336.76,197.97 337.12,195.16 337.45,192.50 337.74,190.17 337.97,188.21 338.17,186.46 338.35,184.85 338.52,183.30 338.68,181.76 338.84,180.14 339.00,178.44 339.15,176.71 339.29,174.99 339.43,173.31 339.58,171.69 339.74,170.16 339.92,168.69 340.10,167.26 340.28,165.90 340.48,164.60 340.69,163.41 340.92,162.31 341.15,161.33 341.38,160.47 341.67,159.72 341.97,159.03 342.29,158.39 342.66,157.73 343.05,157.08 343.44,156.48 343.83,155.94 344.24,155.47 344.67,155.04 345.15,154.66 345.70,154.31 346.35,153.98 347.09,153.65 347.92,153.33 348.80,153.00 349.72,152.67 350.57,152.37 351.37,152.11 352.20,151.84 353.13,151.56 354.22,151.23 355.56,150.85 357.17,150.38 359.01,149.84 360.99,149.27 363.05,148.70 365.08,148.18 367.01,147.73 368.85,147.35 370.69,147.03 372.53,146.74 374.39,146.46 376.31,146.19 378.28,145.89 380.32,145.58 382.42,145.25 384.56,144.93 386.68,144.62 388.76,144.31 390.74,144.04 392.75,143.77 394.85,143.50 396.89,143.25 398.77,143.02 400.35,142.83 401.51,142.69 401.09,139.11 399.94,139.24 398.35,139.42 396.47,139.63 394.41,139.86 392.29,140.11 390.26,140.36 388.25,140.63 386.16,140.91 384.02,141.21 381.87,141.51 379.76,141.81 377.72,142.11 375.77,142.38 373.86,142.64 371.96,142.90 370.06,143.18 368.14,143.50 366.19,143.87 364.15,144.33 362.04,144.86 359.93,145.42 357.91,145.98 356.06,146.50 354.44,146.95 353.10,147.33 351.97,147.65 350.98,147.94 350.07,148.23 349.19,148.57 348.28,148.93 347.36,149.31 346.44,149.70 345.51,150.11 344.59,150.58 343.69,151.12 342.85,151.74 342.11,152.44 341.49,153.17 340.96,153.93 340.51,154.70 340.11,155.48 339.74,156.27 339.40,157.07 339.10,157.90 338.83,158.76 338.60,159.66 338.34,160.62 338.08,161.69 337.84,162.87 337.62,164.14 337.42,165.48 337.22,166.88 337.04,168.34 336.86,169.84 336.69,171.41 336.54,173.06 336.40,174.76 336.26,176.47 336.11,178.18 335.96,179.86 335.80,181.46 335.64,183.00 335.47,184.53 335.29,186.13 335.09,187.88 334.86,189.83 334.58,192.14 334.24,194.80 333.88,197.60 333.53,200.33 333.21,202.81 332.96,204.82 332.78,206.36 332.64,207.58 332.54,208.54 332.46,209.28 332.41,209.87 332.36,210.35" fill="#ff0000" clip-path="url(#cf3)"/>
<clipPath id="cf4"><rect x="390.5" y="130" width="11.5" height="90"/></clipPath>
<polygon points="335.24,210.65 335.29,210.16 335.35,209.57 335.42,208.84 335.52,207.90 335.66,206.70 335.84,205.18 336.09,203.17 336.40,200.70 336.76,197.97 337.12,195.16 337.45,192.50 337.74,190.17 337.97,188.21 338.17,186.46 338.35,184.85 338.52,183.30 338.68,181.76 338.84,180.14 339.00,178.44 339.15,176.71 339.29,174.99 339.43,173.31 339.58,171.69 339.74,170.16 339.92,168.69 340.10,167.26 340.28,165.90 340.48,164.60 340.69,163.41 340.92,162.31 341.15,161.33 341.38,160.47 341.67,159.72 341.97,159.03 342.29,158.39 342.66,157.73 343.05,157.08 343.44,156.48 343.83,155.94 344.24,155.47 344.67,155.04 345.15,154.66 345.70,154.31 346.35,153.98 347.09,153.65 347.92,153.33 348.80,153.00 349.72,152.67 350.57,152.37 351.37,152.11 352.20,151.84 353.13,151.56 354.22,151.23 355.56,150.85 357.17,150.38 359.01,149.84 360.99,149.27 363.05,148.70 365.08,148.18 367.01,147.73 368.85,147.35 370.69,147.03 372.53,146.74 374.39,146.46 376.31,146.19 378.28,145.89 380.32,145.58 382.42,145.25 384.56,144.93 386.68,144.62 388.76,144.31 390.74,144.04 392.75,143.77 394.85,143.50 396.89,143.25 398.77,143.02 400.35,142.83 401.51,142.69 401.09,139.11 399.94,139.24 398.35,139.42 396.47,139.63 394.41,139.86 392.29,140.11 390.26,140.36 388.25,140.63 386.16,140.91 384.02,141.21 381.87,141.51 379.76,141.81 377.72,142.11 375.77,142.38 373.86,142.64 371.96,142.90 370.06,143.18 368.14,143.50 366.19,143.87 364.15,144.33 362.04,144.86 359.93,145.42 357.91,145.98 356.06,146.50 354.44,146.95 353.10,147.33 351.97,147.65 350.98,147.94 350.07,148.23 349.19,148.57 348.28,148.93 347.36,149.31 346.44,149.70 345.51,150.11 344.59,150.58 343.69,151.12 342.85,151.74 342.11,152.44 341.49,153.17 340.96,153.93 340.51,154.70 340.11,155.48 339.74,156.27 339.40,157.07 339.10,157.90 338.83,158.76 338.60,159.66 338.34,160.62 338.08,161.69 337.84,162.87 337.62,164.14 337.42,165.48 337.22,166.88 337.04,168.34 336.86,169.84 336.69,171.41 336.54,173.06 336.40,174.76 336.26,176.47 336.11,178.18 335.96,179.86 335.80,181.46 335.64,183.00 335.47,184.53 335.29,186.13 335.09,187.88 334.86,189.83 334.58,192.14 334.24,194.80 333.88,197.60 333.53,200.33 333.21,202.81 332.96,204.82 332.78,206.36 332.64,207.58 332.54,208.54 332.46,209.28 332.41,209.87 332.36,210.35" fill="#000000" clip-path="url(#cf4)"/>
<path d="M331,202V193.3" stroke="#000" stroke-width="0.7"/><path d="M329.7,194.10000000000002L331,191.3L332.3,194.10000000000002Z" fill="#000"/>
<path d="M338.6,196.3V204" stroke="#000" stroke-width="0.7"/><path d="M337.3,203.2L338.6,206L339.90000000000003,203.2Z" fill="#000"/>
<line x1="306.40" y1="143.50" x2="319.70" y2="143.50" stroke="#000000" stroke-width="0.7" />
<path d="M313.00,142.30L314.20,143.50L313.00,144.70L311.80,143.50Z" fill="#000000"/>
<text x="320.70" y="145.80" font-size="6.0" text-anchor="start" fill="#000" stroke="#000" stroke-width="0.18" font-weight="normal" >-5 –5 (V)</text>
<line x1="306.40" y1="150.45" x2="319.70" y2="150.45" stroke="#ff0000" stroke-width="0.7" />
<path d="M313.00,149.25L314.20,150.45L313.00,151.65L311.80,150.45Z" fill="#ff0000"/>
<text x="320.70" y="152.75" font-size="6.0" text-anchor="start" fill="#000" stroke="#000" stroke-width="0.18" font-weight="normal" >-4 –4</text>
<line x1="306.40" y1="157.40" x2="319.70" y2="157.40" stroke="#ff8000" stroke-width="0.7" />
<path d="M313.00,156.20L314.20,157.40L313.00,158.60L311.80,157.40Z" fill="#ff8000"/>
<text x="320.70" y="159.70" font-size="6.0" text-anchor="start" fill="#000" stroke="#000" stroke-width="0.18" font-weight="normal" >-3 –3</text>
<line x1="306.40" y1="164.35" x2="319.70" y2="164.35" stroke="#008000" stroke-width="0.7" />
<path d="M313.00,163.15L314.20,164.35L313.00,165.55L311.80,164.35Z" fill="#008000"/>
<text x="320.70" y="166.65" font-size="6.0" text-anchor="start" fill="#000" stroke="#000" stroke-width="0.18" font-weight="normal" >-2 –2</text>
<line x1="306.40" y1="171.30" x2="319.70" y2="171.30" stroke="#000080" stroke-width="0.7" />
<path d="M313.00,170.10L314.20,171.30L313.00,172.50L311.80,171.30Z" fill="#000080"/>
<text x="320.70" y="173.60" font-size="6.0" text-anchor="start" fill="#000" stroke="#000" stroke-width="0.18" font-weight="normal" >-1 –1</text>
<rect x="352.40" y="164.00" width="47.50" height="38.30" fill="#fff"/>
<rect x="352.40" y="164.00" width="47.50" height="38.30" fill="none" stroke="#c8c8c8" stroke-width="0.6"/>
<line x1="351.20" y1="190.92" x2="352.40" y2="190.92" stroke="#b4b4b4" stroke-width="0.5" />
<text x="350.60" y="192.62" font-size="4.8" text-anchor="end" fill="#000" stroke="#000" stroke-width="0.18" font-weight="normal" >30</text>
<line x1="351.20" y1="179.55" x2="352.40" y2="179.55" stroke="#b4b4b4" stroke-width="0.5" />
<text x="350.60" y="181.25" font-size="4.8" text-anchor="end" fill="#000" stroke="#000" stroke-width="0.18" font-weight="normal" >60</text>
<line x1="351.20" y1="168.17" x2="352.40" y2="168.17" stroke="#b4b4b4" stroke-width="0.5" />
<text x="350.60" y="169.87" font-size="4.8" text-anchor="end" fill="#000" stroke="#000" stroke-width="0.18" font-weight="normal" >90</text>
<text x="357.50" y="206.30" font-size="4.8" text-anchor="middle" fill="#000" stroke="#000" stroke-width="0.18" font-weight="normal" >2</text>
<text x="367.05" y="206.30" font-size="4.8" text-anchor="middle" fill="#000" stroke="#000" stroke-width="0.18" font-weight="normal" >4</text>
<text x="376.60" y="206.30" font-size="4.8" text-anchor="middle" fill="#000" stroke="#000" stroke-width="0.18" font-weight="normal" >6</text>
<text x="386.15" y="206.30" font-size="4.8" text-anchor="middle" fill="#000" stroke="#000" stroke-width="0.18" font-weight="normal" >8</text>
<text x="395.70" y="206.30" font-size="4.8" text-anchor="middle" fill="#000" stroke="#000" stroke-width="0.18" font-weight="normal" >10</text>
<text x="376.40" y="211.20" font-size="4.8" text-anchor="middle" fill="#000" stroke="#000" stroke-width="0.18" font-weight="normal" >Sweeping range (V)</text>
<text transform="translate(347.20,182.00) rotate(-90)" font-size="5.0" text-anchor="middle" fill="#000" stroke="#000" stroke-width="0.18">ΔV<tspan font-size="3.6" dy="1.1">th</tspan><tspan dy="-1.1"> (mV)</tspan></text>
<polyline points="357.70,197.20 367.40,191.40 376.70,187.70 386.40,189.70 396.00,183.60" stroke="#ff0000" stroke-width="0.6" fill="none" stroke-linejoin="round" stroke-linecap="round" />
<circle cx="357.70" cy="197.20" r="1.0" fill="#ff0000"/>
<circle cx="367.40" cy="191.40" r="1.0" fill="#ff0000"/>
<circle cx="376.70" cy="187.70" r="1.0" fill="#ff0000"/>
<circle cx="386.40" cy="189.70" r="1.0" fill="#ff0000"/>
<circle cx="396.00" cy="183.60" r="1.0" fill="#ff0000"/></svg></body></html>
